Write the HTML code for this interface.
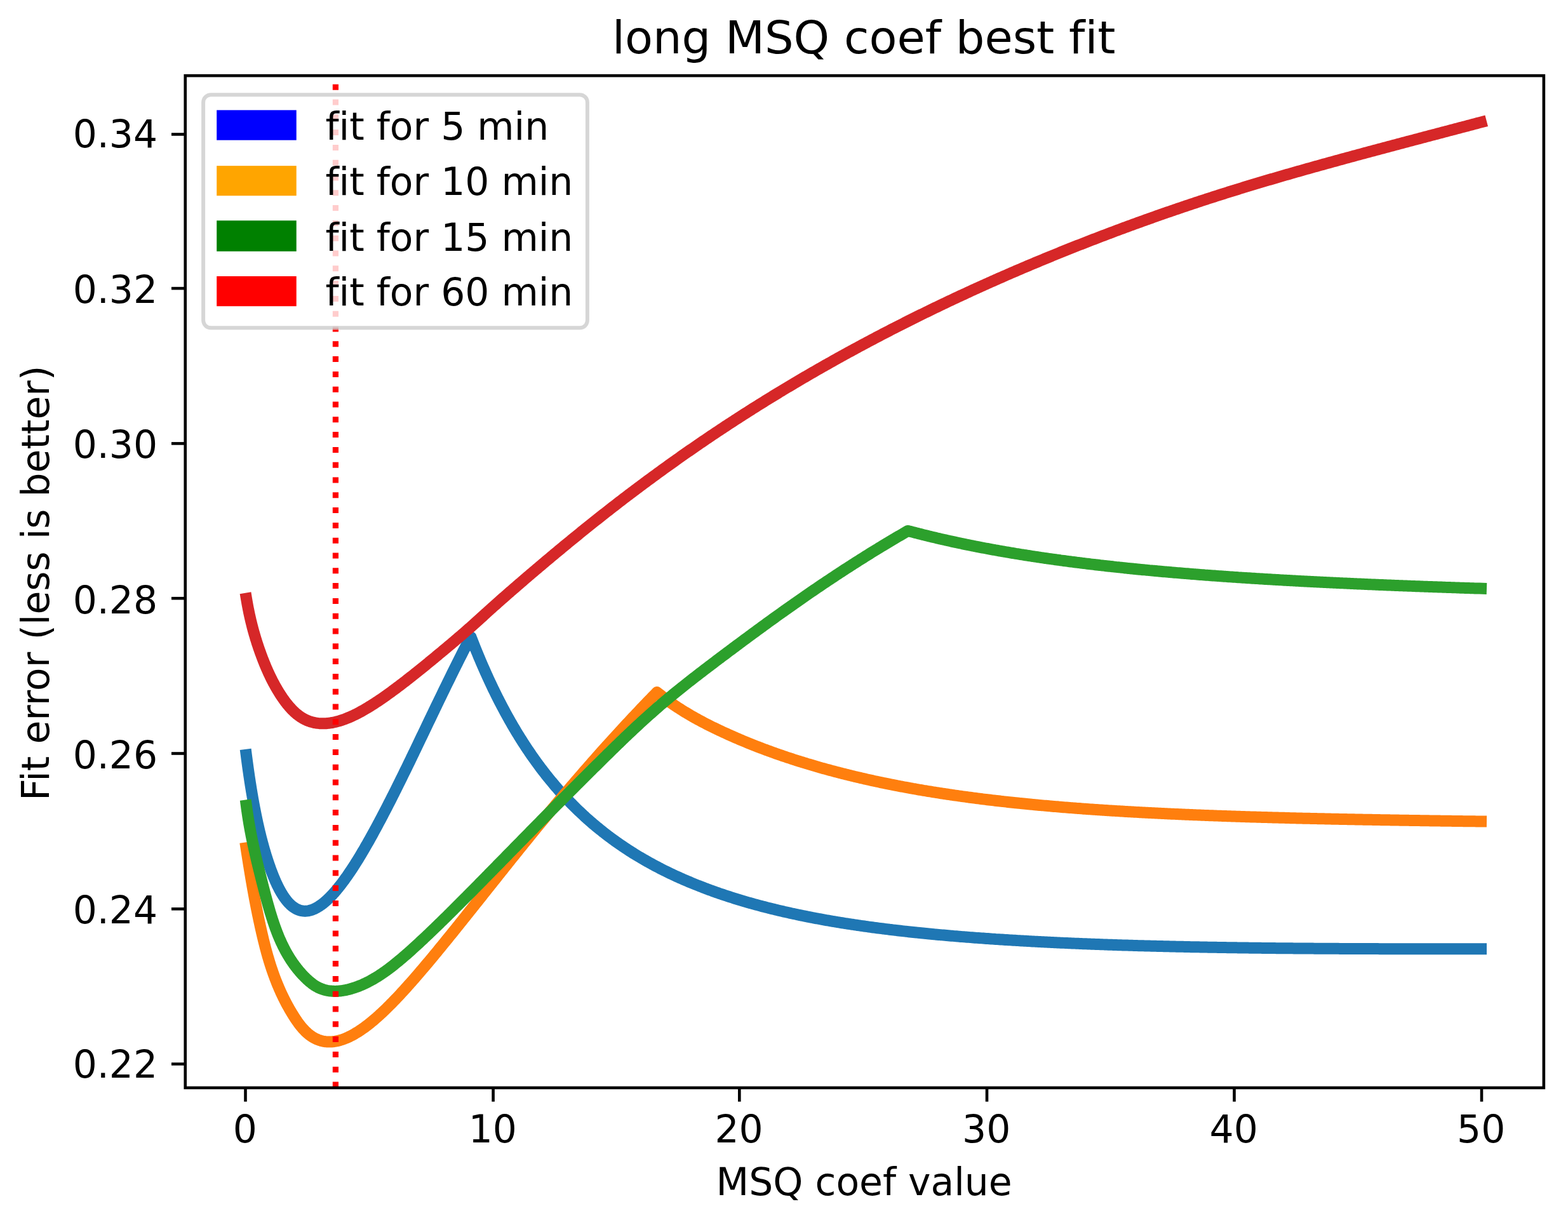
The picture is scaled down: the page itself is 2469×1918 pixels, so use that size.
<!DOCTYPE html>
<html lang="en"><head><meta charset="utf-8"><title>long MSQ coef best fit</title>
<style>html,body{margin:0;padding:0;background:#fff;}body{width:2469px;height:1918px;overflow:hidden;}svg{display:block;}text{font-family:'DejaVu Sans', 'Liberation Sans', sans-serif;fill:#000;font-variant-ligatures:none;font-feature-settings:"liga" 0,"clig" 0,"kern" 1;font-kerning:normal;}</style></head><body>
<svg xmlns="http://www.w3.org/2000/svg" width="2469" height="1918" viewBox="0 0 2469 1918">
<rect x="0" y="0" width="2469" height="1918" fill="#ffffff"/>
<defs><clipPath id="ax"><rect x="291.75" y="119.15" width="2139.1" height="1593.8"/></clipPath></defs>
<g clip-path="url(#ax)" fill="none" stroke-linejoin="round" stroke-linecap="square">
<path d="M387.80,1188.80 L388.07,1190.93 L388.35,1193.08 L388.63,1195.24 L388.92,1197.42 L389.21,1199.60 L389.51,1201.81 L389.81,1204.02 L390.11,1206.25 L390.29,1207.55 L390.42,1208.49 L390.74,1210.75 L391.06,1213.01 L391.38,1215.29 L391.71,1217.58 L392.04,1219.88 L392.38,1222.19 L392.73,1224.51 L392.78,1224.89 L393.08,1226.84 L393.43,1229.18 L393.79,1231.53 L394.16,1233.89 L394.53,1236.26 L394.91,1238.64 L395.27,1240.93 L395.29,1241.02 L395.68,1243.41 L396.07,1245.81 L396.48,1248.22 L396.88,1250.63 L397.30,1253.05 L397.72,1255.48 L397.77,1255.76 L398.14,1257.91 L398.58,1260.35 L399.02,1262.79 L399.46,1265.23 L399.91,1267.69 L400.26,1269.52 L400.38,1270.14 L400.84,1272.60 L401.32,1275.06 L401.80,1277.53 L402.29,1280.00 L402.75,1282.29 L402.79,1282.47 L403.29,1284.94 L403.80,1287.42 L404.32,1289.90 L404.85,1292.37 L405.24,1294.18 L405.39,1294.85 L405.93,1297.33 L406.48,1299.81 L407.04,1302.29 L407.61,1304.77 L407.73,1305.28 L408.19,1307.25 L408.78,1309.73 L409.38,1312.20 L409.98,1314.68 L410.22,1315.65 L410.60,1317.15 L411.22,1319.62 L411.86,1322.08 L412.50,1324.55 L412.72,1325.35 L413.16,1327.01 L413.82,1329.46 L414.49,1331.92 L415.18,1334.36 L415.21,1334.46 L415.87,1336.81 L416.58,1339.25 L417.30,1341.68 L417.70,1343.02 L418.02,1344.11 L418.76,1346.53 L419.51,1348.94 L420.19,1351.08 L420.28,1351.35 L421.05,1353.75 L421.83,1356.14 L422.63,1358.53 L422.68,1358.68 L423.44,1360.91 L424.26,1363.28 L425.10,1365.64 L425.17,1365.85 L425.95,1367.99 L426.81,1370.33 L427.66,1372.62 L427.68,1372.67 L428.57,1374.99 L429.47,1377.29 L430.16,1379.01 L430.39,1379.58 L431.31,1381.85 L432.26,1384.10 L432.65,1385.01 L433.22,1386.33 L434.19,1388.53 L435.14,1390.63 L435.18,1390.71 L436.18,1392.86 L437.20,1394.97 L437.63,1395.86 L438.23,1397.06 L439.28,1399.11 L440.12,1400.70 L440.35,1401.12 L441.43,1403.10 L442.53,1405.04 L442.61,1405.18 L443.65,1406.93 L444.78,1408.78 L445.11,1409.30 L445.93,1410.58 L447.10,1412.33 L447.60,1413.06 L448.28,1414.04 L449.49,1415.69 L450.09,1416.48 L450.71,1417.28 L451.95,1418.82 L452.58,1419.57 L453.21,1420.30 L454.49,1421.72 L455.07,1422.34 L455.79,1423.08 L457.11,1424.38 L457.56,1424.80 L458.45,1425.60 L459.82,1426.76 L460.05,1426.96 L461.20,1427.85 L462.55,1428.83 L462.60,1428.86 L464.03,1429.81 L465.04,1430.42 L465.47,1430.67 L466.94,1431.46 L467.53,1431.75 L468.43,1432.16 L469.95,1432.79 L470.02,1432.81 L471.49,1433.32 L472.51,1433.63 L473.05,1433.78 L474.63,1434.14 L475.00,1434.21 L476.24,1434.41 L477.50,1434.56 L477.88,1434.59 L479.54,1434.68 L479.99,1434.69 L481.22,1434.67 L482.48,1434.60 L482.93,1434.56 L484.67,1434.35 L484.97,1434.31 L486.44,1434.04 L487.46,1433.81 L488.23,1433.63 L489.95,1433.13 L490.05,1433.10 L491.89,1432.48 L492.45,1432.27 L493.77,1431.74 L494.94,1431.23 L495.67,1430.89 L497.43,1430.02 L497.61,1429.93 L499.57,1428.86 L499.92,1428.65 L501.56,1427.66 L502.41,1427.13 L503.59,1426.35 L504.90,1425.45 L505.64,1424.93 L507.39,1423.63 L507.73,1423.38 L509.85,1421.70 L509.89,1421.67 L512.00,1419.90 L512.38,1419.58 L514.19,1417.98 L514.87,1417.36 L516.41,1415.92 L517.36,1415.01 L518.66,1413.74 L519.85,1412.54 L520.95,1411.42 L522.34,1409.96 L523.27,1408.97 L524.84,1407.26 L525.63,1406.38 L527.33,1404.46 L528.02,1403.66 L529.82,1401.55 L530.45,1400.79 L532.31,1398.54 L532.92,1397.79 L534.80,1395.44 L535.43,1394.64 L537.29,1392.24 L537.97,1391.35 L539.78,1388.95 L540.56,1387.91 L542.28,1385.57 L543.18,1384.32 L544.77,1382.11 L545.85,1380.59 L547.26,1378.57 L548.55,1376.70 L549.75,1374.95 L551.30,1372.66 L552.24,1371.25 L554.09,1368.46 L554.73,1367.48 L556.92,1364.11 L557.23,1363.63 L559.72,1359.72 L559.80,1359.59 L562.21,1355.74 L562.72,1354.92 L564.70,1351.70 L565.68,1350.09 L567.19,1347.59 L568.69,1345.09 L569.68,1343.43 L571.75,1339.93 L572.17,1339.21 L574.67,1334.94 L574.86,1334.61 L577.16,1330.61 L578.01,1329.12 L579.65,1326.24 L581.21,1323.47 L582.14,1321.81 L584.46,1317.66 L584.63,1317.35 L587.12,1312.83 L587.76,1311.68 L589.62,1308.28 L591.11,1305.53 L592.11,1303.69 L594.51,1299.22 L594.60,1299.06 L597.09,1294.39 L597.97,1292.74 L599.58,1289.69 L601.47,1286.09 L602.07,1284.95 L604.56,1280.18 L605.04,1279.28 L607.06,1275.38 L608.65,1272.29 L609.55,1270.55 L612.04,1265.70 L612.32,1265.14 L614.53,1260.81 L616.05,1257.82 L617.02,1255.90 L619.51,1250.97 L619.84,1250.32 L622.01,1246.01 L623.68,1242.66 L624.50,1241.02 L626.99,1236.02 L627.59,1234.82 L629.48,1231.00 L631.55,1226.81 L631.97,1225.95 L634.46,1220.89 L635.57,1218.63 L636.95,1215.81 L639.45,1210.71 L639.66,1210.27 L641.94,1205.59 L643.81,1201.74 L644.43,1200.46 L646.92,1195.31 L648.02,1193.03 L649.41,1190.15 L651.90,1184.98 L652.30,1184.16 L654.40,1179.80 L656.64,1175.12 L656.89,1174.61 L659.38,1169.41 L661.05,1165.92 L661.87,1164.21 L664.36,1159.01 L665.53,1156.57 L666.85,1153.81 L669.35,1148.60 L670.08,1147.07 L671.84,1143.40 L674.33,1138.20 L674.70,1137.43 L676.82,1133.00 L679.31,1127.80 L679.38,1127.65 L681.80,1122.61 L684.14,1117.74 L684.29,1117.43 L686.79,1112.25 L688.98,1107.71 L689.28,1107.09 L691.77,1101.93 L693.89,1097.55 L694.26,1096.78 L696.75,1091.65 L698.87,1087.29 L699.24,1086.52 L701.74,1081.41 L703.93,1076.91 L704.23,1076.31 L706.72,1071.22 L709.07,1066.44 L709.21,1066.15 L711.70,1061.09 L714.19,1056.05 L714.29,1055.86 L716.68,1051.03 L719.18,1046.02 L719.58,1045.20 L721.67,1041.02 L724.16,1036.05 L724.96,1034.45 L726.65,1031.09 L729.14,1026.16 L730.42,1023.64 L731.63,1021.29 L734.13,1016.52 L735.97,1013.09 L736.62,1011.91 L739.11,1007.48 L741.60,1003.29 L741.60,1003.29 L741.60,1003.32 L744.10,1009.76 L744.72,1011.34 L746.59,1016.08 L747.87,1019.27 L749.09,1022.30 L751.04,1027.09 L751.59,1028.43 L754.08,1034.45 L754.24,1034.82 L756.58,1040.38 L757.46,1042.45 L759.08,1046.21 L760.72,1049.99 L761.57,1051.94 L764.00,1057.43 L764.07,1057.59 L766.57,1063.15 L767.31,1064.77 L769.06,1068.61 L770.64,1072.03 L771.56,1074.00 L774.01,1079.19 L774.06,1079.29 L776.55,1084.51 L777.40,1086.26 L779.05,1089.64 L780.82,1093.23 L781.55,1094.70 L784.04,1099.67 L784.27,1100.12 L786.54,1104.57 L787.75,1106.92 L789.04,1109.40 L791.25,1113.62 L791.53,1114.15 L794.03,1118.83 L794.79,1120.24 L796.53,1123.44 L798.36,1126.77 L799.02,1127.98 L801.52,1132.45 L801.96,1133.22 L804.02,1136.85 L805.58,1139.57 L806.51,1141.19 L809.01,1145.46 L809.24,1145.85 L811.51,1149.67 L812.93,1152.03 L814.00,1153.82 L816.50,1157.90 L816.65,1158.14 L819.00,1161.93 L820.40,1164.16 L821.49,1165.90 L823.99,1169.80 L824.18,1170.10 L826.49,1173.66 L827.99,1175.95 L828.98,1177.45 L831.48,1181.20 L831.84,1181.72 L833.98,1184.88 L835.71,1187.42 L836.47,1188.52 L838.97,1192.10 L839.63,1193.03 L841.47,1195.64 L843.57,1198.57 L843.96,1199.12 L846.46,1202.55 L847.54,1204.02 L848.96,1205.93 L851.45,1209.27 L851.55,1209.40 L853.95,1212.56 L855.60,1214.71 L856.45,1215.81 L858.95,1219.00 L859.67,1219.93 L861.44,1222.16 L863.79,1225.08 L863.94,1225.27 L866.44,1228.34 L867.93,1230.16 L868.93,1231.36 L871.43,1234.35 L872.11,1235.16 L873.93,1237.29 L876.33,1240.09 L876.42,1240.20 L878.92,1243.06 L880.58,1244.94 L881.42,1245.88 L883.91,1248.67 L884.87,1249.73 L886.41,1251.42 L888.91,1254.13 L889.19,1254.44 L891.40,1256.81 L893.55,1259.08 L893.90,1259.45 L896.40,1262.06 L897.95,1263.66 L898.89,1264.63 L901.39,1267.17 L902.38,1268.16 L903.89,1269.67 L906.38,1272.14 L906.85,1272.60 L908.88,1274.58 L911.36,1276.97 L911.38,1276.98 L913.87,1279.36 L915.90,1281.27 L916.37,1281.70 L918.87,1284.02 L920.49,1285.50 L921.36,1286.30 L923.86,1288.56 L925.11,1289.67 L926.36,1290.78 L928.85,1292.98 L929.77,1293.78 L931.35,1295.15 L933.85,1297.29 L934.47,1297.82 L936.34,1299.41 L938.84,1301.49 L939.21,1301.80 L941.34,1303.56 L943.83,1305.59 L943.99,1305.72 L946.33,1307.60 L948.81,1309.57 L948.83,1309.59 L951.32,1311.55 L953.67,1313.36 L953.82,1313.48 L956.32,1315.40 L958.57,1317.10 L958.81,1317.28 L961.31,1319.15 L963.51,1320.77 L963.81,1320.99 L966.30,1322.81 L968.49,1324.39 L968.80,1324.61 L971.30,1326.38 L973.52,1327.94 L973.79,1328.14 L976.29,1329.87 L978.58,1331.44 L978.79,1331.58 L981.28,1333.27 L983.69,1334.89 L983.78,1334.94 L986.28,1336.60 L988.77,1338.23 L988.85,1338.27 L991.27,1339.84 L993.77,1341.43 L994.04,1341.61 L996.26,1343.00 L998.76,1344.56 L999.28,1344.88 L1001.26,1346.10 L1003.75,1347.62 L1004.57,1348.11 L1006.25,1349.12 L1008.75,1350.60 L1009.89,1351.28 L1011.24,1352.07 L1013.74,1353.52 L1015.27,1354.40 L1016.24,1354.95 L1018.73,1356.37 L1020.69,1357.46 L1021.23,1357.77 L1023.73,1359.15 L1026.15,1360.48 L1026.22,1360.52 L1028.72,1361.87 L1031.22,1363.21 L1031.66,1363.44 L1033.71,1364.53 L1036.21,1365.84 L1037.21,1366.36 L1038.71,1367.13 L1041.20,1368.41 L1042.82,1369.23 L1043.70,1369.68 L1046.20,1370.93 L1048.46,1372.05 L1048.69,1372.16 L1051.19,1373.38 L1053.69,1374.59 L1054.16,1374.82 L1056.18,1375.79 L1058.68,1376.97 L1059.91,1377.55 L1061.18,1378.14 L1063.67,1379.30 L1065.70,1380.23 L1066.17,1380.44 L1068.67,1381.57 L1071.16,1382.69 L1071.54,1382.86 L1073.66,1383.80 L1076.16,1384.90 L1077.43,1385.45 L1078.65,1385.98 L1081.15,1387.06 L1083.37,1388.00 L1083.65,1388.12 L1086.15,1389.17 L1088.64,1390.21 L1089.36,1390.50 L1091.14,1391.23 L1093.64,1392.25 L1095.40,1392.97 L1096.13,1393.26 L1098.63,1394.26 L1101.13,1395.24 L1101.49,1395.39 L1103.62,1396.22 L1106.12,1397.18 L1107.63,1397.76 L1108.62,1398.14 L1111.11,1399.09 L1113.61,1400.02 L1113.83,1400.10 L1116.11,1400.95 L1118.60,1401.87 L1120.07,1402.40 L1121.10,1402.77 L1123.60,1403.67 L1126.09,1404.56 L1126.37,1404.66 L1128.59,1405.44 L1131.09,1406.31 L1132.72,1406.88 L1133.58,1407.17 L1136.08,1408.03 L1138.58,1408.87 L1139.12,1409.06 L1141.07,1409.71 L1143.57,1410.53 L1145.58,1411.20 L1146.07,1411.35 L1148.56,1412.16 L1151.06,1412.97 L1152.09,1413.30 L1153.56,1413.76 L1156.05,1414.55 L1158.55,1415.33 L1158.66,1415.36 L1161.05,1416.10 L1163.54,1416.86 L1165.28,1417.39 L1166.04,1417.61 L1168.54,1418.36 L1171.03,1419.10 L1171.96,1419.38 L1173.53,1419.83 L1176.03,1420.56 L1178.52,1421.28 L1178.69,1421.33 L1181.02,1421.99 L1183.52,1422.69 L1185.48,1423.24 L1186.01,1423.39 L1188.51,1424.08 L1191.01,1424.76 L1192.33,1425.12 L1193.50,1425.44 L1196.00,1426.11 L1198.50,1426.77 L1199.24,1426.97 L1200.99,1427.43 L1203.49,1428.08 L1205.99,1428.72 L1206.20,1428.77 L1208.48,1429.36 L1210.98,1429.99 L1213.22,1430.55 L1213.48,1430.61 L1215.97,1431.23 L1218.47,1431.84 L1220.30,1432.29 L1220.97,1432.45 L1223.46,1433.05 L1225.96,1433.64 L1227.44,1433.99 L1228.46,1434.23 L1230.95,1434.82 L1233.45,1435.39 L1234.64,1435.67 L1235.95,1435.96 L1238.44,1436.53 L1240.94,1437.09 L1241.90,1437.30 L1243.44,1437.65 L1245.93,1438.19 L1248.43,1438.74 L1249.22,1438.91 L1250.93,1439.28 L1253.42,1439.81 L1255.92,1440.34 L1256.60,1440.48 L1258.42,1440.86 L1260.91,1441.38 L1263.41,1441.89 L1264.04,1442.02 L1265.91,1442.40 L1268.40,1442.91 L1270.90,1443.41 L1271.55,1443.53 L1273.40,1443.90 L1275.89,1444.39 L1278.39,1444.87 L1279.12,1445.01 L1280.89,1445.35 L1283.38,1445.83 L1285.88,1446.30 L1286.75,1446.46 L1288.38,1446.76 L1290.87,1447.22 L1293.37,1447.68 L1294.45,1447.88 L1295.87,1448.13 L1298.36,1448.58 L1300.86,1449.03 L1302.21,1449.27 L1303.36,1449.47 L1305.85,1449.90 L1308.35,1450.33 L1310.04,1450.62 L1310.85,1450.76 L1313.35,1451.18 L1315.84,1451.60 L1317.93,1451.95 L1318.34,1452.02 L1320.84,1452.43 L1323.33,1452.84 L1325.83,1453.24 L1325.89,1453.25 L1328.33,1453.64 L1330.82,1454.04 L1333.32,1454.43 L1333.92,1454.52 L1335.82,1454.82 L1338.31,1455.20 L1340.81,1455.59 L1342.01,1455.77 L1343.31,1455.96 L1345.80,1456.34 L1348.30,1456.71 L1350.17,1456.98 L1350.80,1457.08 L1353.29,1457.44 L1355.79,1457.80 L1358.29,1458.16 L1358.40,1458.17 L1360.78,1458.51 L1363.28,1458.86 L1365.78,1459.21 L1366.70,1459.34 L1368.27,1459.55 L1370.77,1459.89 L1373.27,1460.23 L1375.07,1460.47 L1375.76,1460.56 L1378.26,1460.89 L1380.76,1461.22 L1383.25,1461.55 L1383.51,1461.58 L1385.75,1461.87 L1388.25,1462.19 L1390.74,1462.50 L1392.02,1462.67 L1393.24,1462.82 L1395.74,1463.13 L1398.23,1463.44 L1400.60,1463.72 L1400.73,1463.74 L1403.23,1464.04 L1405.72,1464.34 L1408.22,1464.64 L1409.26,1464.76 L1410.72,1464.93 L1413.21,1465.22 L1415.71,1465.51 L1417.98,1465.77 L1418.21,1465.79 L1420.70,1466.08 L1423.20,1466.36 L1425.70,1466.64 L1426.78,1466.75 L1428.19,1466.91 L1430.69,1467.18 L1433.19,1467.45 L1435.65,1467.72 L1435.68,1467.72 L1438.18,1467.99 L1440.68,1468.25 L1443.17,1468.51 L1444.60,1468.66 L1445.67,1468.77 L1448.17,1469.02 L1450.66,1469.28 L1453.16,1469.53 L1453.62,1469.57 L1455.66,1469.78 L1458.15,1470.02 L1460.65,1470.27 L1462.72,1470.47 L1463.15,1470.51 L1465.64,1470.75 L1468.14,1470.99 L1470.64,1471.22 L1471.90,1471.34 L1473.13,1471.46 L1475.63,1471.69 L1478.13,1471.92 L1480.62,1472.14 L1481.15,1472.19 L1483.12,1472.37 L1485.62,1472.59 L1488.11,1472.81 L1490.48,1473.02 L1490.61,1473.03 L1493.11,1473.25 L1495.60,1473.46 L1498.10,1473.68 L1499.89,1473.83 L1500.60,1473.89 L1503.09,1474.10 L1505.59,1474.31 L1508.09,1474.51 L1509.37,1474.62 L1510.58,1474.72 L1513.08,1474.92 L1515.58,1475.12 L1518.07,1475.32 L1518.94,1475.39 L1520.57,1475.52 L1523.07,1475.71 L1525.56,1475.90 L1528.06,1476.10 L1528.59,1476.14 L1530.56,1476.29 L1533.05,1476.47 L1535.55,1476.66 L1538.05,1476.85 L1538.32,1476.87 L1540.55,1477.03 L1543.04,1477.21 L1545.54,1477.39 L1548.04,1477.57 L1548.12,1477.58 L1550.53,1477.75 L1553.03,1477.92 L1555.53,1478.10 L1558.02,1478.27 L1558.02,1478.27 L1560.52,1478.44 L1563.02,1478.61 L1565.51,1478.78 L1567.99,1478.95 L1568.01,1478.95 L1570.51,1479.11 L1573.00,1479.28 L1575.50,1479.44 L1578.00,1479.60 L1578.05,1479.60 L1580.49,1479.76 L1582.99,1479.92 L1585.49,1480.07 L1587.98,1480.23 L1588.19,1480.24 L1590.48,1480.38 L1592.98,1480.53 L1595.47,1480.69 L1597.97,1480.84 L1598.42,1480.86 L1600.47,1480.98 L1602.96,1481.13 L1605.46,1481.28 L1607.96,1481.42 L1608.74,1481.47 L1610.45,1481.56 L1612.95,1481.71 L1615.45,1481.85 L1617.94,1481.99 L1619.14,1482.05 L1620.44,1482.12 L1622.94,1482.26 L1625.43,1482.40 L1627.93,1482.53 L1629.63,1482.62 L1630.43,1482.66 L1632.92,1482.80 L1635.42,1482.93 L1637.92,1483.06 L1640.20,1483.18 L1640.41,1483.19 L1642.91,1483.31 L1645.41,1483.44 L1647.90,1483.56 L1650.40,1483.69 L1650.87,1483.71 L1652.90,1483.81 L1655.39,1483.93 L1657.89,1484.05 L1660.39,1484.17 L1661.62,1484.23 L1662.88,1484.29 L1665.38,1484.41 L1667.88,1484.52 L1670.37,1484.64 L1672.47,1484.74 L1672.87,1484.75 L1675.37,1484.87 L1677.86,1484.98 L1680.36,1485.09 L1682.86,1485.20 L1683.40,1485.22 L1685.35,1485.31 L1687.85,1485.42 L1690.35,1485.52 L1692.84,1485.63 L1694.43,1485.70 L1695.34,1485.73 L1697.84,1485.84 L1700.33,1485.94 L1702.83,1486.04 L1705.33,1486.14 L1705.55,1486.15 L1707.82,1486.24 L1710.32,1486.34 L1712.82,1486.44 L1715.31,1486.54 L1716.76,1486.60 L1717.81,1486.64 L1720.31,1486.73 L1722.80,1486.83 L1725.30,1486.92 L1727.80,1487.01 L1728.07,1487.02 L1730.29,1487.10 L1732.79,1487.19 L1735.29,1487.28 L1737.78,1487.37 L1739.48,1487.43 L1740.28,1487.46 L1742.78,1487.55 L1745.27,1487.64 L1747.77,1487.72 L1750.27,1487.81 L1750.97,1487.83 L1752.76,1487.89 L1755.26,1487.97 L1757.76,1488.06 L1760.25,1488.14 L1762.57,1488.21 L1762.75,1488.22 L1765.25,1488.30 L1767.75,1488.38 L1770.24,1488.46 L1772.74,1488.54 L1774.26,1488.58 L1775.24,1488.61 L1777.73,1488.69 L1780.23,1488.76 L1782.73,1488.84 L1785.22,1488.91 L1786.05,1488.94 L1787.72,1488.99 L1790.22,1489.06 L1792.71,1489.13 L1795.21,1489.20 L1797.71,1489.27 L1797.94,1489.28 L1800.20,1489.34 L1802.70,1489.41 L1805.20,1489.48 L1807.69,1489.55 L1809.93,1489.61 L1810.19,1489.61 L1812.69,1489.68 L1815.18,1489.75 L1817.68,1489.81 L1820.18,1489.87 L1822.02,1489.92 L1822.67,1489.94 L1825.17,1490.00 L1827.67,1490.06 L1830.16,1490.12 L1832.66,1490.19 L1834.21,1490.22 L1835.16,1490.25 L1837.65,1490.30 L1840.15,1490.36 L1842.65,1490.42 L1845.14,1490.48 L1846.51,1490.51 L1847.64,1490.54 L1850.14,1490.59 L1852.63,1490.65 L1855.13,1490.70 L1857.63,1490.76 L1858.91,1490.79 L1860.12,1490.81 L1862.62,1490.87 L1865.12,1490.92 L1867.61,1490.97 L1870.11,1491.02 L1871.41,1491.05 L1872.61,1491.07 L1875.10,1491.13 L1877.60,1491.18 L1880.10,1491.23 L1882.59,1491.27 L1884.01,1491.30 L1885.09,1491.32 L1887.59,1491.37 L1890.08,1491.42 L1892.58,1491.46 L1895.08,1491.51 L1896.73,1491.54 L1897.57,1491.56 L1900.07,1491.60 L1902.57,1491.65 L1905.06,1491.69 L1907.56,1491.73 L1909.54,1491.77 L1910.06,1491.78 L1912.55,1491.82 L1915.05,1491.86 L1917.55,1491.90 L1920.04,1491.94 L1922.47,1491.98 L1922.54,1491.99 L1925.04,1492.03 L1927.53,1492.07 L1930.03,1492.10 L1932.53,1492.14 L1935.02,1492.18 L1935.51,1492.19 L1937.52,1492.22 L1940.02,1492.26 L1942.51,1492.29 L1945.01,1492.33 L1947.51,1492.37 L1948.65,1492.38 L1950.00,1492.40 L1952.50,1492.44 L1955.00,1492.47 L1957.49,1492.51 L1959.99,1492.54 L1961.91,1492.56 L1962.49,1492.57 L1964.98,1492.61 L1967.48,1492.64 L1969.98,1492.67 L1972.47,1492.70 L1974.97,1492.73 L1975.27,1492.74 L1977.47,1492.76 L1979.96,1492.79 L1982.46,1492.82 L1984.96,1492.85 L1987.45,1492.88 L1988.75,1492.90 L1989.95,1492.91 L1992.45,1492.94 L1994.95,1492.97 L1997.44,1493.00 L1999.94,1493.02 L2002.34,1493.05 L2002.44,1493.05 L2004.93,1493.08 L2007.43,1493.10 L2009.93,1493.13 L2012.42,1493.15 L2014.92,1493.18 L2016.05,1493.19 L2017.42,1493.20 L2019.91,1493.23 L2022.41,1493.25 L2024.91,1493.27 L2027.40,1493.30 L2029.87,1493.32 L2029.90,1493.32 L2032.40,1493.34 L2034.89,1493.37 L2037.39,1493.39 L2039.89,1493.41 L2042.38,1493.43 L2043.80,1493.44 L2044.88,1493.45 L2047.38,1493.47 L2049.87,1493.49 L2052.37,1493.51 L2054.87,1493.53 L2057.36,1493.55 L2057.86,1493.55 L2059.86,1493.57 L2062.36,1493.59 L2064.85,1493.61 L2067.35,1493.62 L2069.85,1493.64 L2072.03,1493.66 L2072.34,1493.66 L2074.84,1493.68 L2077.34,1493.69 L2079.83,1493.71 L2082.33,1493.73 L2084.83,1493.74 L2086.32,1493.75 L2087.32,1493.76 L2089.82,1493.77 L2092.32,1493.79 L2094.81,1493.80 L2097.31,1493.82 L2099.81,1493.83 L2100.73,1493.84 L2102.30,1493.84 L2104.80,1493.86 L2107.30,1493.87 L2109.79,1493.89 L2112.29,1493.90 L2114.79,1493.91 L2115.26,1493.91 L2117.28,1493.92 L2119.78,1493.93 L2122.28,1493.95 L2124.77,1493.96 L2127.27,1493.97 L2129.77,1493.98 L2129.92,1493.98 L2132.26,1493.99 L2134.76,1494.00 L2137.26,1494.01 L2139.75,1494.02 L2142.25,1494.03 L2144.70,1494.04 L2144.75,1494.04 L2147.24,1494.05 L2149.74,1494.06 L2152.24,1494.07 L2154.73,1494.08 L2157.23,1494.09 L2159.60,1494.09 L2159.73,1494.09 L2162.22,1494.10 L2164.72,1494.11 L2167.22,1494.12 L2169.71,1494.12 L2172.21,1494.13 L2174.62,1494.14 L2174.71,1494.14 L2177.20,1494.15 L2179.70,1494.15 L2182.20,1494.16 L2184.69,1494.16 L2187.19,1494.17 L2189.69,1494.18 L2189.77,1494.18 L2192.18,1494.18 L2194.68,1494.19 L2197.18,1494.19 L2199.67,1494.20 L2202.17,1494.20 L2204.67,1494.20 L2205.05,1494.21 L2207.16,1494.21 L2209.66,1494.21 L2212.16,1494.22 L2214.65,1494.22 L2217.15,1494.22 L2219.65,1494.23 L2220.46,1494.23 L2222.15,1494.23 L2224.64,1494.23 L2227.14,1494.24 L2229.64,1494.24 L2232.13,1494.24 L2234.63,1494.24 L2236.00,1494.24 L2237.13,1494.25 L2239.62,1494.25 L2242.12,1494.25 L2244.62,1494.25 L2247.11,1494.25 L2249.61,1494.25 L2251.67,1494.25 L2252.11,1494.25 L2254.60,1494.25 L2257.10,1494.26 L2259.60,1494.26 L2262.09,1494.26 L2264.59,1494.26 L2267.09,1494.26 L2267.47,1494.26 L2269.58,1494.26 L2272.08,1494.26 L2274.58,1494.26 L2277.07,1494.26 L2279.57,1494.26 L2282.07,1494.25 L2283.40,1494.25 L2284.56,1494.25 L2287.06,1494.25 L2289.56,1494.25 L2292.05,1494.25 L2294.55,1494.25 L2297.05,1494.25 L2299.46,1494.24 L2299.54,1494.24 L2302.04,1494.24 L2304.54,1494.24 L2307.03,1494.24 L2309.53,1494.24 L2312.03,1494.23 L2314.52,1494.23 L2315.66,1494.23 L2317.02,1494.23 L2319.52,1494.23 L2322.01,1494.22 L2324.51,1494.22 L2327.01,1494.22 L2329.50,1494.21 L2332.00,1494.21 L2332.00,1494.21" stroke="#1f77b4" stroke-width="18.0"/>
<path d="M387.60,1335.40 L387.92,1337.48 L388.25,1339.59 L388.59,1341.74 L388.93,1343.93 L389.28,1346.15 L389.64,1348.41 L390.00,1350.71 L390.10,1351.34 L390.37,1353.04 L390.74,1355.40 L391.12,1357.80 L391.51,1360.23 L391.91,1362.69 L392.31,1365.18 L392.60,1366.93 L392.72,1367.71 L393.14,1370.27 L393.57,1372.85 L394.00,1375.47 L394.44,1378.12 L394.89,1380.80 L395.09,1381.98 L395.35,1383.51 L395.82,1386.24 L396.29,1389.01 L396.78,1391.80 L397.27,1394.61 L397.59,1396.43 L397.77,1397.46 L398.28,1400.33 L398.81,1403.23 L399.34,1406.15 L399.88,1409.10 L400.09,1410.25 L400.43,1412.07 L400.99,1415.06 L401.56,1418.08 L402.14,1421.12 L402.59,1423.44 L402.73,1424.18 L403.33,1427.27 L403.95,1430.38 L404.57,1433.50 L405.08,1436.04 L405.21,1436.65 L405.86,1439.82 L406.52,1443.01 L407.19,1446.22 L407.58,1448.07 L407.87,1449.44 L408.57,1452.69 L409.28,1455.95 L410.01,1459.23 L410.08,1459.56 L410.74,1462.53 L411.49,1465.84 L412.26,1469.17 L412.58,1470.55 L413.03,1472.51 L413.83,1475.87 L414.63,1479.24 L415.07,1481.05 L415.46,1482.60 L416.29,1485.97 L417.15,1489.33 L417.57,1490.99 L418.01,1492.69 L418.90,1496.03 L419.80,1499.35 L420.07,1500.34 L420.71,1502.65 L421.65,1505.93 L422.57,1509.08 L422.60,1509.19 L423.57,1512.43 L424.55,1515.64 L425.07,1517.27 L425.56,1518.83 L426.58,1522.00 L427.56,1524.97 L427.62,1525.15 L428.69,1528.28 L429.77,1531.39 L430.06,1532.22 L430.87,1534.47 L431.99,1537.54 L432.56,1539.07 L433.13,1540.59 L434.29,1543.61 L435.06,1545.56 L435.48,1546.62 L436.68,1549.61 L437.55,1551.72 L437.91,1552.58 L439.16,1555.52 L440.05,1557.58 L440.43,1558.45 L441.73,1561.36 L442.55,1563.17 L443.05,1564.26 L444.40,1567.13 L445.05,1568.49 L445.77,1569.98 L447.16,1572.82 L447.54,1573.59 L448.58,1575.64 L450.03,1578.44 L450.04,1578.47 L451.50,1581.23 L452.54,1583.14 L453.00,1583.99 L454.53,1586.74 L455.04,1587.64 L456.09,1589.47 L457.54,1591.95 L457.67,1592.19 L459.29,1594.89 L460.03,1596.11 L460.93,1597.57 L462.53,1600.12 L462.61,1600.24 L464.31,1602.89 L465.03,1603.98 L466.05,1605.51 L467.53,1607.67 L467.82,1608.10 L469.62,1610.63 L470.02,1611.19 L471.45,1613.11 L472.52,1614.50 L473.32,1615.52 L475.02,1617.60 L475.22,1617.84 L477.16,1620.07 L477.52,1620.46 L479.14,1622.20 L480.01,1623.10 L481.15,1624.22 L482.51,1625.52 L483.19,1626.14 L485.01,1627.72 L485.28,1627.95 L487.40,1629.64 L487.51,1629.73 L489.56,1631.23 L490.01,1631.53 L491.76,1632.69 L492.50,1633.16 L494.00,1634.04 L495.00,1634.60 L496.29,1635.28 L497.50,1635.87 L498.61,1636.39 L500.00,1636.98 L500.98,1637.37 L502.49,1637.93 L503.39,1638.23 L504.99,1638.72 L505.85,1638.96 L507.49,1639.37 L508.35,1639.56 L509.99,1639.88 L510.90,1640.03 L512.48,1640.25 L513.49,1640.36 L514.98,1640.49 L516.14,1640.56 L517.48,1640.60 L518.83,1640.62 L519.98,1640.60 L521.57,1640.53 L522.47,1640.47 L524.36,1640.30 L524.97,1640.24 L527.20,1639.93 L527.47,1639.89 L529.97,1639.44 L530.10,1639.42 L532.47,1638.89 L533.04,1638.75 L534.96,1638.24 L536.05,1637.93 L537.46,1637.50 L539.10,1636.96 L539.96,1636.67 L542.22,1635.84 L542.46,1635.75 L544.95,1634.75 L545.39,1634.57 L547.45,1633.67 L548.62,1633.13 L549.95,1632.50 L551.91,1631.54 L552.45,1631.27 L554.94,1629.96 L555.26,1629.79 L557.44,1628.57 L558.67,1627.87 L559.94,1627.12 L562.14,1625.79 L562.44,1625.61 L564.94,1624.03 L565.68,1623.54 L567.43,1622.39 L569.29,1621.13 L569.93,1620.68 L572.43,1618.92 L572.96,1618.55 L574.93,1617.11 L576.69,1615.79 L577.42,1615.24 L579.92,1613.31 L580.50,1612.86 L582.42,1611.34 L584.37,1609.76 L584.92,1609.32 L587.41,1607.24 L588.32,1606.48 L589.91,1605.13 L592.34,1603.02 L592.41,1602.96 L594.91,1600.75 L596.44,1599.38 L597.41,1598.51 L599.90,1596.21 L600.61,1595.56 L602.40,1593.88 L604.85,1591.56 L604.90,1591.52 L607.40,1589.11 L609.18,1587.37 L609.89,1586.67 L612.39,1584.20 L613.58,1583.01 L614.89,1581.69 L617.39,1579.15 L618.07,1578.46 L619.88,1576.59 L622.38,1573.99 L622.64,1573.73 L624.88,1571.37 L627.29,1568.82 L627.38,1568.72 L629.88,1566.05 L632.03,1563.73 L632.37,1563.35 L634.87,1560.63 L636.85,1558.46 L637.37,1557.89 L639.87,1555.13 L641.76,1553.02 L642.36,1552.35 L644.86,1549.54 L646.77,1547.39 L647.36,1546.72 L649.86,1543.89 L651.87,1541.59 L652.35,1541.03 L654.85,1538.16 L657.06,1535.61 L657.35,1535.27 L659.85,1532.37 L662.34,1529.46 L662.35,1529.45 L664.84,1526.53 L667.34,1523.58 L667.73,1523.13 L669.84,1520.63 L672.34,1517.66 L673.21,1516.62 L674.83,1514.68 L677.33,1511.70 L678.79,1509.94 L679.83,1508.70 L682.33,1505.69 L684.48,1503.09 L684.82,1502.67 L687.32,1499.65 L689.82,1496.61 L690.27,1496.07 L692.32,1493.57 L694.82,1490.52 L696.17,1488.87 L697.31,1487.46 L699.81,1484.40 L702.17,1481.50 L702.31,1481.33 L704.81,1478.25 L707.30,1475.17 L708.29,1473.95 L709.80,1472.08 L712.30,1468.99 L714.52,1466.24 L714.80,1465.89 L717.29,1462.79 L719.79,1459.69 L720.86,1458.35 L722.29,1456.58 L724.79,1453.46 L727.28,1450.35 L727.32,1450.30 L729.78,1447.23 L732.28,1444.11 L733.90,1442.08 L734.78,1440.98 L737.28,1437.85 L739.77,1434.72 L740.60,1433.68 L742.27,1431.59 L744.77,1428.46 L747.27,1425.33 L747.43,1425.12 L749.76,1422.19 L752.26,1419.05 L754.38,1416.39 L754.76,1415.91 L757.26,1412.78 L759.75,1409.64 L761.46,1407.50 L762.25,1406.50 L764.75,1403.36 L767.25,1400.22 L768.66,1398.44 L769.75,1397.08 L772.24,1393.94 L774.74,1390.80 L776.01,1389.21 L777.24,1387.66 L779.74,1384.52 L782.23,1381.39 L783.48,1379.82 L784.73,1378.25 L787.23,1375.12 L789.73,1371.99 L791.10,1370.27 L792.22,1368.86 L794.72,1365.73 L797.22,1362.61 L798.85,1360.57 L799.72,1359.48 L802.22,1356.37 L804.71,1353.25 L806.75,1350.71 L807.21,1350.14 L809.71,1347.03 L812.21,1343.92 L814.70,1340.82 L814.79,1340.71 L817.20,1337.72 L819.70,1334.62 L822.20,1331.53 L822.98,1330.56 L824.69,1328.45 L827.19,1325.36 L829.69,1322.28 L831.32,1320.27 L832.19,1319.21 L834.69,1316.14 L837.18,1313.07 L839.68,1310.01 L839.82,1309.85 L842.18,1306.96 L844.68,1303.91 L847.17,1300.86 L848.47,1299.29 L849.67,1297.82 L852.17,1294.79 L854.67,1291.76 L857.16,1288.73 L857.28,1288.59 L859.66,1285.71 L862.16,1282.70 L864.66,1279.69 L866.25,1277.77 L867.16,1276.69 L869.65,1273.69 L872.15,1270.70 L874.65,1267.72 L875.39,1266.83 L877.15,1264.74 L879.64,1261.76 L882.14,1258.80 L884.64,1255.83 L884.70,1255.76 L887.14,1252.88 L889.63,1249.93 L892.13,1246.99 L894.17,1244.58 L894.63,1244.05 L897.13,1241.12 L899.63,1238.19 L902.12,1235.27 L903.83,1233.29 L904.62,1232.36 L907.12,1229.46 L909.62,1226.56 L912.11,1223.66 L913.66,1221.88 L914.61,1220.78 L917.11,1217.90 L919.61,1215.03 L922.10,1212.16 L923.67,1210.37 L924.60,1209.30 L927.10,1206.44 L929.60,1203.60 L932.09,1200.76 L933.86,1198.75 L934.59,1197.92 L937.09,1195.10 L939.59,1192.28 L942.09,1189.46 L944.25,1187.03 L944.58,1186.65 L947.08,1183.85 L949.58,1181.06 L952.08,1178.27 L954.57,1175.49 L954.82,1175.22 L957.07,1172.72 L959.57,1169.95 L962.07,1167.19 L964.56,1164.44 L965.59,1163.31 L967.06,1161.69 L969.56,1158.95 L972.06,1156.22 L974.56,1153.50 L976.56,1151.31 L977.05,1150.78 L979.55,1148.06 L982.05,1145.36 L984.55,1142.66 L987.04,1139.97 L987.73,1139.23 L989.54,1137.28 L992.04,1134.60 L994.54,1131.93 L997.03,1129.27 L999.10,1127.06 L999.53,1126.61 L1002.03,1123.96 L1004.53,1121.31 L1007.03,1118.67 L1009.52,1116.04 L1010.69,1114.82 L1012.02,1113.42 L1014.52,1110.80 L1017.02,1108.19 L1019.51,1105.59 L1022.01,1102.99 L1022.48,1102.50 L1024.51,1100.40 L1027.01,1097.81 L1029.50,1095.24 L1032.00,1092.67 L1034.50,1090.10 L1037.00,1092.14 L1038.13,1093.04 L1039.50,1094.13 L1041.77,1095.92 L1042.00,1096.09 L1044.50,1098.02 L1045.43,1098.73 L1047.00,1099.91 L1049.12,1101.49 L1049.50,1101.77 L1052.00,1103.60 L1052.82,1104.19 L1054.50,1105.39 L1056.55,1106.84 L1057.00,1107.16 L1059.50,1108.90 L1060.30,1109.44 L1062.00,1110.60 L1064.06,1111.99 L1064.50,1112.28 L1067.00,1113.94 L1067.85,1114.49 L1069.50,1115.56 L1071.65,1116.94 L1072.00,1117.16 L1074.50,1118.74 L1075.48,1119.36 L1077.00,1120.30 L1079.33,1121.72 L1079.50,1121.83 L1082.00,1123.33 L1083.20,1124.05 L1084.50,1124.82 L1087.00,1126.29 L1087.09,1126.34 L1089.50,1127.73 L1091.00,1128.59 L1092.00,1129.16 L1094.50,1130.57 L1094.94,1130.81 L1097.00,1131.96 L1098.89,1133.00 L1099.50,1133.33 L1102.00,1134.68 L1102.87,1135.15 L1104.50,1136.02 L1106.87,1137.27 L1107.00,1137.34 L1109.50,1138.65 L1110.89,1139.37 L1112.00,1139.94 L1114.50,1141.22 L1114.93,1141.43 L1117.00,1142.48 L1118.99,1143.48 L1119.50,1143.73 L1122.00,1144.96 L1123.08,1145.49 L1124.50,1146.19 L1127.00,1147.40 L1127.19,1147.49 L1129.50,1148.60 L1131.32,1149.46 L1132.00,1149.79 L1134.50,1150.96 L1135.47,1151.42 L1137.00,1152.13 L1139.50,1153.29 L1139.65,1153.36 L1142.00,1154.44 L1143.85,1155.28 L1144.50,1155.57 L1147.00,1156.70 L1148.07,1157.18 L1149.50,1157.82 L1152.00,1158.93 L1152.31,1159.07 L1154.50,1160.04 L1156.58,1160.95 L1157.00,1161.13 L1159.50,1162.21 L1160.87,1162.80 L1162.00,1163.29 L1164.50,1164.35 L1165.19,1164.65 L1167.00,1165.41 L1169.50,1166.46 L1169.52,1166.47 L1172.00,1167.50 L1173.89,1168.28 L1174.50,1168.54 L1177.00,1169.56 L1178.27,1170.08 L1179.50,1170.58 L1182.00,1171.58 L1182.68,1171.86 L1184.50,1172.58 L1187.00,1173.58 L1187.11,1173.62 L1189.50,1174.56 L1191.57,1175.37 L1192.00,1175.54 L1194.50,1176.50 L1196.05,1177.10 L1197.00,1177.46 L1199.50,1178.42 L1200.56,1178.82 L1202.00,1179.36 L1204.50,1180.30 L1205.09,1180.52 L1207.00,1181.23 L1209.50,1182.15 L1209.65,1182.21 L1212.00,1183.07 L1214.23,1183.88 L1214.50,1183.98 L1217.00,1184.88 L1218.83,1185.53 L1219.50,1185.77 L1222.00,1186.66 L1223.46,1187.17 L1224.50,1187.54 L1227.00,1188.41 L1228.12,1188.80 L1229.50,1189.28 L1232.00,1190.13 L1232.80,1190.41 L1234.50,1190.99 L1237.00,1191.83 L1237.51,1192.00 L1239.50,1192.67 L1242.00,1193.50 L1242.24,1193.58 L1244.50,1194.33 L1247.00,1195.15 L1247.00,1195.15 L1249.50,1195.96 L1251.78,1196.70 L1252.00,1196.77 L1254.50,1197.57 L1256.59,1198.23 L1257.00,1198.36 L1259.50,1199.15 L1261.43,1199.75 L1262.00,1199.93 L1264.50,1200.70 L1266.29,1201.26 L1267.00,1201.47 L1269.50,1202.23 L1271.18,1202.74 L1272.00,1202.99 L1274.50,1203.74 L1276.10,1204.22 L1277.00,1204.49 L1279.50,1205.23 L1281.04,1205.68 L1282.00,1205.96 L1284.50,1206.69 L1286.01,1207.12 L1287.00,1207.41 L1289.50,1208.12 L1291.01,1208.55 L1292.00,1208.83 L1294.50,1209.54 L1296.04,1209.97 L1297.00,1210.24 L1299.50,1210.93 L1301.09,1211.37 L1302.00,1211.62 L1304.50,1212.30 L1306.17,1212.76 L1307.00,1212.98 L1309.50,1213.65 L1311.27,1214.13 L1312.00,1214.32 L1314.50,1214.98 L1316.41,1215.49 L1317.00,1215.64 L1319.50,1216.29 L1321.57,1216.83 L1322.00,1216.94 L1324.50,1217.58 L1326.76,1218.16 L1327.00,1218.22 L1329.50,1218.85 L1331.98,1219.47 L1332.00,1219.47 L1334.50,1220.09 L1337.00,1220.71 L1337.23,1220.77 L1339.50,1221.32 L1342.00,1221.93 L1342.51,1222.05 L1344.50,1222.53 L1347.00,1223.13 L1347.81,1223.32 L1349.50,1223.72 L1352.00,1224.31 L1353.15,1224.58 L1354.50,1224.89 L1357.00,1225.47 L1358.51,1225.82 L1359.50,1226.05 L1362.00,1226.62 L1363.90,1227.05 L1364.50,1227.18 L1367.00,1227.74 L1369.33,1228.26 L1369.50,1228.30 L1372.00,1228.85 L1374.50,1229.40 L1374.78,1229.46 L1377.00,1229.94 L1379.50,1230.48 L1380.26,1230.64 L1382.00,1231.02 L1384.50,1231.55 L1385.77,1231.81 L1387.00,1232.07 L1389.50,1232.59 L1391.31,1232.97 L1392.00,1233.11 L1394.50,1233.63 L1396.88,1234.11 L1397.00,1234.14 L1399.50,1234.64 L1402.00,1235.14 L1402.49,1235.24 L1404.50,1235.64 L1407.00,1236.14 L1408.12,1236.36 L1409.50,1236.63 L1412.00,1237.11 L1413.78,1237.46 L1414.50,1237.59 L1417.00,1238.07 L1419.48,1238.54 L1419.50,1238.55 L1422.00,1239.02 L1424.50,1239.49 L1425.20,1239.62 L1427.00,1239.95 L1429.50,1240.41 L1430.96,1240.68 L1432.00,1240.86 L1434.50,1241.32 L1436.75,1241.72 L1437.00,1241.77 L1439.50,1242.21 L1442.00,1242.65 L1442.57,1242.75 L1444.50,1243.09 L1447.00,1243.53 L1448.42,1243.77 L1449.50,1243.96 L1452.00,1244.38 L1454.30,1244.77 L1454.50,1244.81 L1457.00,1245.23 L1459.50,1245.65 L1460.22,1245.77 L1462.00,1246.06 L1464.50,1246.47 L1466.16,1246.74 L1467.00,1246.88 L1469.50,1247.28 L1472.00,1247.68 L1472.14,1247.71 L1474.50,1248.08 L1477.00,1248.47 L1478.16,1248.66 L1479.50,1248.87 L1482.00,1249.25 L1484.20,1249.59 L1484.50,1249.64 L1487.00,1250.02 L1489.50,1250.40 L1490.28,1250.51 L1492.00,1250.77 L1494.50,1251.14 L1496.39,1251.42 L1497.00,1251.51 L1499.50,1251.88 L1502.00,1252.24 L1502.54,1252.32 L1504.50,1252.60 L1507.00,1252.96 L1508.72,1253.20 L1509.50,1253.31 L1512.00,1253.67 L1514.50,1254.01 L1514.93,1254.07 L1517.00,1254.36 L1519.50,1254.70 L1521.17,1254.93 L1522.00,1255.04 L1524.50,1255.38 L1527.00,1255.71 L1527.45,1255.77 L1529.50,1256.04 L1532.00,1256.37 L1533.77,1256.60 L1534.50,1256.70 L1537.00,1257.02 L1539.50,1257.34 L1540.12,1257.42 L1542.00,1257.66 L1544.50,1257.97 L1546.50,1258.22 L1547.00,1258.29 L1549.50,1258.59 L1552.00,1258.90 L1552.92,1259.01 L1554.50,1259.21 L1557.00,1259.51 L1559.37,1259.79 L1559.50,1259.81 L1562.00,1260.10 L1564.50,1260.40 L1565.86,1260.56 L1567.00,1260.69 L1569.50,1260.98 L1572.00,1261.27 L1572.39,1261.31 L1574.50,1261.55 L1577.00,1261.83 L1578.95,1262.05 L1579.50,1262.11 L1582.00,1262.39 L1584.50,1262.66 L1585.54,1262.78 L1587.00,1262.94 L1589.50,1263.21 L1592.00,1263.47 L1592.17,1263.49 L1594.50,1263.74 L1597.00,1264.00 L1598.84,1264.20 L1599.50,1264.27 L1602.00,1264.52 L1604.50,1264.78 L1605.54,1264.89 L1607.00,1265.04 L1609.50,1265.29 L1612.00,1265.54 L1612.28,1265.57 L1614.50,1265.79 L1617.00,1266.03 L1619.06,1266.24 L1619.50,1266.28 L1622.00,1266.52 L1624.50,1266.76 L1625.88,1266.89 L1627.00,1267.00 L1629.50,1267.24 L1632.00,1267.47 L1632.73,1267.54 L1634.50,1267.70 L1637.00,1267.93 L1639.50,1268.16 L1639.62,1268.17 L1642.00,1268.39 L1644.50,1268.61 L1646.54,1268.79 L1647.00,1268.83 L1649.50,1269.05 L1652.00,1269.27 L1653.51,1269.40 L1654.50,1269.49 L1657.00,1269.71 L1659.50,1269.92 L1660.51,1270.01 L1662.00,1270.13 L1664.50,1270.34 L1667.00,1270.55 L1667.55,1270.60 L1669.50,1270.76 L1672.00,1270.96 L1674.50,1271.16 L1674.63,1271.17 L1677.00,1271.37 L1679.50,1271.56 L1681.74,1271.74 L1682.00,1271.76 L1684.50,1271.96 L1687.00,1272.15 L1688.90,1272.30 L1689.50,1272.35 L1692.00,1272.54 L1694.50,1272.73 L1696.10,1272.85 L1697.00,1272.92 L1699.50,1273.10 L1702.00,1273.29 L1703.33,1273.39 L1704.50,1273.47 L1707.00,1273.65 L1709.50,1273.83 L1710.60,1273.91 L1712.00,1274.01 L1714.50,1274.19 L1717.00,1274.37 L1717.92,1274.43 L1719.50,1274.54 L1722.00,1274.71 L1724.50,1274.89 L1725.27,1274.94 L1727.00,1275.06 L1729.50,1275.22 L1732.00,1275.39 L1732.67,1275.44 L1734.50,1275.56 L1737.00,1275.72 L1739.50,1275.89 L1740.10,1275.93 L1742.00,1276.05 L1744.50,1276.21 L1747.00,1276.37 L1747.57,1276.40 L1749.50,1276.53 L1752.00,1276.68 L1754.50,1276.84 L1755.09,1276.87 L1757.00,1276.99 L1759.50,1277.14 L1762.00,1277.30 L1762.65,1277.34 L1764.50,1277.45 L1767.00,1277.60 L1769.50,1277.74 L1770.24,1277.79 L1772.00,1277.89 L1774.50,1278.04 L1777.00,1278.18 L1777.88,1278.23 L1779.50,1278.32 L1782.00,1278.46 L1784.50,1278.60 L1785.56,1278.66 L1787.00,1278.74 L1789.50,1278.88 L1792.00,1279.02 L1793.28,1279.09 L1794.50,1279.16 L1797.00,1279.29 L1799.50,1279.42 L1801.05,1279.51 L1802.00,1279.56 L1804.50,1279.69 L1807.00,1279.82 L1808.86,1279.91 L1809.50,1279.95 L1812.00,1280.08 L1814.50,1280.20 L1816.71,1280.32 L1817.00,1280.33 L1819.50,1280.46 L1822.00,1280.58 L1824.50,1280.70 L1824.60,1280.71 L1827.00,1280.82 L1829.50,1280.95 L1832.00,1281.07 L1832.53,1281.09 L1834.50,1281.19 L1837.00,1281.30 L1839.50,1281.42 L1840.51,1281.47 L1842.00,1281.54 L1844.50,1281.65 L1847.00,1281.77 L1848.54,1281.84 L1849.50,1281.88 L1852.00,1281.99 L1854.50,1282.10 L1856.60,1282.20 L1857.00,1282.22 L1859.50,1282.32 L1862.00,1282.43 L1864.50,1282.54 L1864.71,1282.55 L1867.00,1282.65 L1869.50,1282.76 L1872.00,1282.86 L1872.87,1282.90 L1874.50,1282.97 L1877.00,1283.07 L1879.50,1283.17 L1881.06,1283.24 L1882.00,1283.27 L1884.50,1283.38 L1887.00,1283.48 L1889.31,1283.57 L1889.50,1283.58 L1892.00,1283.67 L1894.50,1283.77 L1897.00,1283.87 L1897.60,1283.89 L1899.50,1283.97 L1902.00,1284.06 L1904.50,1284.16 L1905.93,1284.21 L1907.00,1284.25 L1909.50,1284.34 L1912.00,1284.44 L1914.31,1284.52 L1914.50,1284.53 L1917.00,1284.62 L1919.50,1284.71 L1922.00,1284.80 L1922.73,1284.83 L1924.50,1284.89 L1927.00,1284.98 L1929.50,1285.07 L1931.21,1285.12 L1932.00,1285.15 L1934.50,1285.24 L1937.00,1285.32 L1939.50,1285.41 L1939.72,1285.42 L1942.00,1285.49 L1944.50,1285.58 L1947.00,1285.66 L1948.29,1285.70 L1949.50,1285.74 L1952.00,1285.82 L1954.50,1285.90 L1956.90,1285.98 L1957.00,1285.98 L1959.50,1286.06 L1962.00,1286.14 L1964.50,1286.22 L1965.55,1286.26 L1967.00,1286.30 L1969.50,1286.38 L1972.00,1286.45 L1974.26,1286.52 L1974.50,1286.53 L1977.00,1286.61 L1979.50,1286.68 L1982.00,1286.76 L1983.01,1286.78 L1984.50,1286.83 L1987.00,1286.90 L1989.50,1286.97 L1991.81,1287.04 L1992.00,1287.05 L1994.50,1287.12 L1997.00,1287.19 L1999.50,1287.26 L2000.66,1287.29 L2002.00,1287.33 L2004.50,1287.40 L2007.00,1287.47 L2009.50,1287.54 L2009.55,1287.54 L2012.00,1287.60 L2014.50,1287.67 L2017.00,1287.74 L2018.50,1287.78 L2019.50,1287.81 L2022.00,1287.87 L2024.50,1287.94 L2027.00,1288.00 L2027.49,1288.01 L2029.50,1288.07 L2032.00,1288.13 L2034.50,1288.19 L2036.53,1288.24 L2037.00,1288.26 L2039.50,1288.32 L2042.00,1288.38 L2044.50,1288.44 L2045.62,1288.47 L2047.00,1288.50 L2049.50,1288.56 L2052.00,1288.63 L2054.50,1288.69 L2054.77,1288.69 L2057.00,1288.74 L2059.50,1288.80 L2062.00,1288.86 L2063.96,1288.91 L2064.50,1288.92 L2067.00,1288.98 L2069.50,1289.04 L2072.00,1289.09 L2073.20,1289.12 L2074.50,1289.15 L2077.00,1289.21 L2079.50,1289.26 L2082.00,1289.32 L2082.49,1289.33 L2084.50,1289.37 L2087.00,1289.43 L2089.50,1289.48 L2091.83,1289.53 L2092.00,1289.54 L2094.50,1289.59 L2097.00,1289.64 L2099.50,1289.69 L2101.23,1289.73 L2102.00,1289.75 L2104.50,1289.80 L2107.00,1289.85 L2109.50,1289.90 L2110.67,1289.93 L2112.00,1289.95 L2114.50,1290.00 L2117.00,1290.06 L2119.50,1290.11 L2120.17,1290.12 L2122.00,1290.16 L2124.50,1290.20 L2127.00,1290.25 L2129.50,1290.30 L2129.71,1290.31 L2132.00,1290.35 L2134.50,1290.40 L2137.00,1290.45 L2139.31,1290.49 L2139.50,1290.50 L2142.00,1290.54 L2144.50,1290.59 L2147.00,1290.64 L2148.97,1290.67 L2149.50,1290.68 L2152.00,1290.73 L2154.50,1290.77 L2157.00,1290.82 L2158.67,1290.85 L2159.50,1290.87 L2162.00,1290.91 L2164.50,1290.96 L2167.00,1291.00 L2168.43,1291.03 L2169.50,1291.04 L2172.00,1291.09 L2174.50,1291.13 L2177.00,1291.18 L2178.24,1291.20 L2179.50,1291.22 L2182.00,1291.26 L2184.50,1291.31 L2187.00,1291.35 L2188.11,1291.37 L2189.50,1291.39 L2192.00,1291.43 L2194.50,1291.47 L2197.00,1291.52 L2198.03,1291.53 L2199.50,1291.56 L2202.00,1291.60 L2204.50,1291.64 L2207.00,1291.68 L2208.00,1291.70 L2209.50,1291.72 L2212.00,1291.76 L2214.50,1291.80 L2217.00,1291.84 L2218.02,1291.86 L2219.50,1291.88 L2222.00,1291.92 L2224.50,1291.96 L2227.00,1292.00 L2228.11,1292.02 L2229.50,1292.04 L2232.00,1292.08 L2234.50,1292.12 L2237.00,1292.15 L2238.24,1292.17 L2239.50,1292.19 L2242.00,1292.23 L2244.50,1292.27 L2247.00,1292.31 L2248.44,1292.33 L2249.50,1292.34 L2252.00,1292.38 L2254.50,1292.42 L2257.00,1292.45 L2258.68,1292.48 L2259.50,1292.49 L2262.00,1292.53 L2264.50,1292.56 L2267.00,1292.60 L2268.99,1292.63 L2269.50,1292.64 L2272.00,1292.67 L2274.50,1292.71 L2277.00,1292.74 L2279.35,1292.78 L2279.50,1292.78 L2282.00,1292.82 L2284.50,1292.85 L2287.00,1292.89 L2289.50,1292.92 L2289.76,1292.93 L2292.00,1292.96 L2294.50,1292.99 L2297.00,1293.03 L2299.50,1293.06 L2300.24,1293.07 L2302.00,1293.10 L2304.50,1293.13 L2307.00,1293.16 L2309.50,1293.20 L2310.77,1293.21 L2312.00,1293.23 L2314.50,1293.27 L2317.00,1293.30 L2319.50,1293.33 L2321.35,1293.36 L2322.00,1293.37 L2324.50,1293.40 L2327.00,1293.43 L2329.50,1293.47 L2332.00,1293.50 L2332.00,1293.50" stroke="#ff7f0e" stroke-width="18.0"/>
<path d="M387.90,1268.40 L388.27,1271.22 L388.65,1274.01 L389.04,1276.79 L389.43,1279.54 L389.83,1282.27 L390.24,1284.99 L390.40,1285.99 L390.66,1287.69 L391.09,1290.38 L391.53,1293.05 L391.97,1295.72 L392.43,1298.39 L392.89,1301.04 L392.90,1301.06 L393.37,1303.70 L393.85,1306.35 L394.35,1309.00 L394.85,1311.66 L395.37,1314.32 L395.39,1314.46 L395.89,1316.98 L396.43,1319.66 L396.98,1322.34 L397.53,1325.04 L397.89,1326.75 L398.11,1327.75 L398.69,1330.48 L399.28,1333.23 L399.89,1335.99 L400.39,1338.26 L400.51,1338.78 L401.14,1341.59 L401.79,1344.43 L402.44,1347.29 L402.89,1349.21 L403.12,1350.18 L403.80,1353.11 L404.50,1356.07 L405.22,1359.06 L405.39,1359.77 L405.95,1362.09 L406.69,1365.16 L407.45,1368.28 L407.89,1370.05 L408.23,1371.43 L409.02,1374.63 L409.83,1377.88 L410.38,1380.10 L410.65,1381.17 L411.50,1384.52 L412.36,1387.92 L412.88,1389.99 L413.23,1391.37 L414.13,1394.88 L415.04,1398.44 L415.38,1399.75 L415.98,1402.05 L416.93,1405.71 L417.88,1409.32 L417.90,1409.40 L418.89,1413.12 L419.91,1416.87 L420.38,1418.60 L420.94,1420.64 L422.00,1424.43 L422.88,1427.53 L423.07,1428.22 L424.17,1432.02 L425.30,1435.82 L425.37,1436.08 L426.44,1439.61 L427.61,1443.38 L427.87,1444.22 L428.80,1447.14 L430.02,1450.87 L430.37,1451.92 L431.27,1454.58 L432.54,1458.25 L432.87,1459.19 L433.83,1461.87 L435.15,1465.45 L435.37,1466.02 L436.50,1468.98 L437.87,1472.42 L437.88,1472.46 L439.29,1475.87 L440.36,1478.40 L440.72,1479.22 L442.19,1482.52 L442.86,1484.00 L443.69,1485.76 L445.21,1488.95 L445.36,1489.26 L446.77,1492.08 L447.86,1494.20 L448.36,1495.16 L449.98,1498.18 L450.36,1498.86 L451.64,1501.15 L452.86,1503.26 L453.33,1504.07 L455.06,1506.94 L455.35,1507.42 L456.82,1509.75 L457.85,1511.35 L458.62,1512.52 L460.35,1515.09 L460.46,1515.24 L462.33,1517.91 L462.85,1518.63 L464.24,1520.53 L465.35,1522.00 L466.20,1523.10 L467.85,1525.20 L468.19,1525.63 L470.22,1528.12 L470.34,1528.26 L472.30,1530.55 L472.84,1531.18 L474.42,1532.95 L475.34,1533.96 L476.58,1535.30 L477.84,1536.62 L478.79,1537.61 L480.34,1539.17 L481.05,1539.87 L482.84,1541.61 L483.35,1542.09 L485.33,1543.92 L485.70,1544.24 L487.83,1546.09 L488.09,1546.31 L490.33,1548.12 L490.54,1548.28 L492.83,1549.99 L493.04,1550.13 L495.33,1551.69 L495.59,1551.86 L497.83,1553.22 L498.19,1553.43 L500.32,1554.59 L500.84,1554.85 L502.82,1555.79 L503.55,1556.12 L505.32,1556.85 L506.32,1557.24 L507.82,1557.77 L509.15,1558.21 L510.32,1558.56 L512.03,1559.03 L512.82,1559.22 L514.97,1559.69 L515.31,1559.76 L517.81,1560.19 L517.98,1560.21 L520.31,1560.51 L521.04,1560.58 L522.81,1560.73 L524.17,1560.81 L525.31,1560.85 L527.37,1560.88 L527.81,1560.88 L530.30,1560.82 L530.63,1560.81 L532.80,1560.68 L533.95,1560.59 L535.30,1560.46 L537.35,1560.22 L537.80,1560.16 L540.30,1559.79 L540.82,1559.71 L542.80,1559.35 L544.36,1559.05 L545.29,1558.85 L547.79,1558.28 L547.97,1558.24 L550.29,1557.66 L551.66,1557.29 L552.79,1556.98 L555.29,1556.24 L555.42,1556.20 L557.79,1555.44 L559.26,1554.95 L560.28,1554.60 L562.78,1553.70 L563.18,1553.55 L565.28,1552.74 L567.19,1551.98 L567.78,1551.73 L570.28,1550.67 L571.27,1550.24 L572.78,1549.56 L575.27,1548.39 L575.44,1548.31 L577.77,1547.18 L579.70,1546.21 L580.27,1545.91 L582.77,1544.60 L584.04,1543.91 L585.27,1543.23 L587.77,1541.82 L588.48,1541.41 L590.26,1540.36 L592.76,1538.85 L593.00,1538.70 L595.26,1537.29 L597.62,1535.78 L597.76,1535.69 L600.26,1534.04 L602.34,1532.63 L602.76,1532.35 L605.25,1530.61 L607.15,1529.26 L607.75,1528.83 L610.25,1527.01 L612.07,1525.66 L612.75,1525.14 L615.25,1523.25 L617.08,1521.83 L617.75,1521.31 L620.24,1519.34 L622.20,1517.78 L622.74,1517.34 L625.24,1515.32 L627.43,1513.52 L627.74,1513.26 L630.24,1511.17 L632.74,1509.06 L632.76,1509.04 L635.23,1506.93 L637.73,1504.77 L638.21,1504.36 L640.23,1502.60 L642.73,1500.40 L643.76,1499.48 L645.23,1498.18 L647.73,1495.95 L649.44,1494.41 L650.22,1493.70 L652.72,1491.43 L655.22,1489.15 L655.22,1489.14 L657.72,1486.85 L660.22,1484.54 L661.13,1483.69 L662.72,1482.22 L665.21,1479.89 L667.17,1478.06 L667.71,1477.55 L670.21,1475.20 L672.71,1472.83 L673.32,1472.25 L675.21,1470.46 L677.71,1468.08 L679.61,1466.26 L680.20,1465.68 L682.70,1463.28 L685.20,1460.87 L686.02,1460.08 L687.70,1458.46 L690.20,1456.03 L692.57,1453.72 L692.70,1453.60 L695.19,1451.16 L697.69,1448.72 L699.25,1447.18 L700.19,1446.26 L702.69,1443.81 L705.19,1441.34 L706.08,1440.46 L707.69,1438.87 L710.18,1436.40 L712.68,1433.92 L713.04,1433.56 L715.18,1431.43 L717.68,1428.94 L720.15,1426.48 L720.18,1426.45 L722.68,1423.95 L725.17,1421.45 L727.40,1419.21 L727.67,1418.94 L730.17,1416.43 L732.67,1413.92 L734.81,1411.76 L735.17,1411.40 L737.66,1408.88 L740.16,1406.36 L742.36,1404.13 L742.66,1403.83 L745.16,1401.31 L747.66,1398.78 L750.08,1396.32 L750.16,1396.24 L752.65,1393.71 L755.15,1391.17 L757.65,1388.63 L757.95,1388.33 L760.15,1386.10 L762.65,1383.55 L765.15,1381.01 L765.99,1380.15 L767.64,1378.47 L770.14,1375.92 L772.64,1373.38 L774.20,1371.79 L775.14,1370.83 L777.64,1368.28 L780.14,1365.73 L782.57,1363.25 L782.63,1363.18 L785.13,1360.64 L787.63,1358.09 L790.13,1355.54 L791.12,1354.53 L792.63,1352.99 L795.13,1350.43 L797.62,1347.88 L799.84,1345.62 L800.12,1345.33 L802.62,1342.78 L805.12,1340.23 L807.62,1337.68 L808.75,1336.53 L810.12,1335.13 L812.61,1332.59 L815.11,1330.04 L817.61,1327.49 L817.84,1327.26 L820.11,1324.94 L822.61,1322.40 L825.11,1319.85 L827.12,1317.80 L827.60,1317.31 L830.10,1314.76 L832.60,1312.22 L835.10,1309.68 L836.59,1308.16 L837.60,1307.14 L840.10,1304.60 L842.59,1302.06 L845.09,1299.52 L846.26,1298.34 L847.59,1296.99 L850.09,1294.45 L852.59,1291.92 L855.09,1289.39 L856.13,1288.33 L857.58,1286.86 L860.08,1284.33 L862.58,1281.80 L865.08,1279.27 L866.20,1278.14 L867.58,1276.75 L870.08,1274.23 L872.57,1271.71 L875.07,1269.19 L876.48,1267.77 L877.57,1266.67 L880.07,1264.15 L882.57,1261.63 L885.07,1259.12 L886.97,1257.21 L887.56,1256.61 L890.06,1254.10 L892.56,1251.59 L895.06,1249.08 L897.56,1246.58 L897.68,1246.45 L900.06,1244.08 L902.55,1241.57 L905.05,1239.07 L907.55,1236.58 L908.62,1235.51 L910.05,1234.08 L912.55,1231.59 L915.05,1229.09 L917.54,1226.60 L919.78,1224.38 L920.04,1224.11 L922.54,1221.63 L925.04,1219.14 L927.54,1216.66 L930.04,1214.18 L931.17,1213.05 L932.53,1211.70 L935.03,1209.22 L937.53,1206.74 L940.03,1204.27 L942.53,1201.80 L942.79,1201.54 L945.03,1199.33 L947.52,1196.86 L950.02,1194.40 L952.52,1191.93 L954.66,1189.83 L955.02,1189.47 L957.52,1187.02 L960.02,1184.56 L962.51,1182.12 L965.01,1179.67 L966.77,1177.95 L967.51,1177.24 L970.01,1174.80 L972.51,1172.38 L975.01,1169.96 L977.50,1167.54 L979.14,1165.97 L980.00,1165.14 L982.50,1162.74 L985.00,1160.35 L987.50,1157.96 L990.00,1155.59 L991.76,1153.92 L992.49,1153.22 L994.99,1150.87 L997.49,1148.52 L999.99,1146.18 L1002.49,1143.86 L1004.64,1141.86 L1004.99,1141.54 L1007.48,1139.23 L1009.98,1136.94 L1012.48,1134.65 L1014.98,1132.38 L1017.48,1130.11 L1017.79,1129.83 L1019.98,1127.86 L1022.47,1125.62 L1024.97,1123.40 L1027.47,1121.18 L1029.97,1118.98 L1031.21,1117.89 L1032.47,1116.79 L1034.97,1114.62 L1037.46,1112.45 L1039.96,1110.30 L1042.46,1108.17 L1044.91,1106.09 L1044.96,1106.05 L1047.46,1103.94 L1049.96,1101.84 L1052.45,1099.75 L1054.95,1097.68 L1057.45,1095.61 L1058.90,1094.42 L1059.95,1093.56 L1062.45,1091.52 L1064.95,1089.48 L1067.44,1087.46 L1069.94,1085.45 L1072.44,1083.44 L1073.17,1082.86 L1074.94,1081.44 L1077.44,1079.46 L1079.94,1077.48 L1082.43,1075.50 L1084.93,1073.54 L1087.43,1071.58 L1087.74,1071.34 L1089.93,1069.63 L1092.43,1067.68 L1094.92,1065.74 L1097.42,1063.80 L1099.92,1061.88 L1102.42,1059.95 L1102.61,1059.81 L1104.92,1058.03 L1107.42,1056.12 L1109.91,1054.21 L1112.41,1052.30 L1114.91,1050.40 L1117.41,1048.50 L1117.79,1048.22 L1119.91,1046.61 L1122.41,1044.72 L1124.90,1042.83 L1127.40,1040.94 L1129.90,1039.06 L1132.40,1037.18 L1133.28,1036.51 L1134.90,1035.30 L1137.40,1033.42 L1139.89,1031.54 L1142.39,1029.67 L1144.89,1027.80 L1147.39,1025.92 L1149.09,1024.65 L1149.89,1024.05 L1152.39,1022.19 L1154.88,1020.32 L1157.38,1018.45 L1159.88,1016.59 L1162.38,1014.73 L1164.88,1012.87 L1165.24,1012.60 L1167.38,1011.02 L1169.87,1009.16 L1172.37,1007.31 L1174.87,1005.46 L1177.37,1003.61 L1179.87,1001.77 L1181.71,1000.40 L1182.37,999.92 L1184.86,998.08 L1187.36,996.24 L1189.86,994.41 L1192.36,992.58 L1194.86,990.75 L1197.36,988.92 L1198.53,988.06 L1199.85,987.10 L1202.35,985.28 L1204.85,983.46 L1207.35,981.64 L1209.85,979.83 L1212.35,978.02 L1214.84,976.22 L1215.70,975.60 L1217.34,974.42 L1219.84,972.62 L1222.34,970.82 L1224.84,969.03 L1227.34,967.24 L1229.83,965.45 L1232.33,963.67 L1233.22,963.04 L1234.83,961.89 L1237.33,960.12 L1239.83,958.34 L1242.33,956.58 L1244.82,954.81 L1247.32,953.05 L1249.82,951.29 L1251.10,950.39 L1252.32,949.54 L1254.82,947.79 L1257.32,946.04 L1259.81,944.30 L1262.31,942.56 L1264.81,940.83 L1267.31,939.10 L1269.36,937.68 L1269.81,937.37 L1272.31,935.65 L1274.80,933.93 L1277.30,932.21 L1279.80,930.50 L1282.30,928.80 L1284.80,927.09 L1287.30,925.40 L1287.99,924.92 L1289.79,923.70 L1292.29,922.01 L1294.79,920.32 L1297.29,918.64 L1299.79,916.96 L1302.29,915.29 L1304.78,913.62 L1307.01,912.14 L1307.28,911.96 L1309.78,910.30 L1312.28,908.64 L1314.78,906.99 L1317.28,905.34 L1319.77,903.70 L1322.27,902.06 L1324.77,900.42 L1326.43,899.34 L1327.27,898.79 L1329.77,897.17 L1332.27,895.55 L1334.76,893.93 L1337.26,892.32 L1339.76,890.71 L1342.26,889.11 L1344.76,887.51 L1346.24,886.56 L1347.26,885.91 L1349.75,884.32 L1352.25,882.74 L1354.75,881.16 L1357.25,879.58 L1359.75,878.01 L1362.25,876.44 L1364.74,874.88 L1366.47,873.80 L1367.24,873.32 L1369.74,871.77 L1372.24,870.22 L1374.74,868.68 L1377.24,867.14 L1379.73,865.60 L1382.23,864.07 L1384.73,862.55 L1387.12,861.10 L1387.23,861.03 L1389.73,859.51 L1392.23,858.00 L1394.72,856.49 L1397.22,854.99 L1399.72,853.50 L1402.22,852.00 L1404.72,850.52 L1407.22,849.03 L1408.19,848.46 L1409.71,847.55 L1412.21,846.08 L1414.71,844.61 L1417.21,843.15 L1419.71,841.69 L1422.21,840.23 L1424.70,838.78 L1427.20,837.34 L1429.70,835.90 L1429.70,835.90 L1429.70,835.90 L1432.20,836.57 L1432.99,836.78 L1434.70,837.23 L1436.28,837.65 L1437.20,837.89 L1439.59,838.51 L1439.70,838.54 L1442.20,839.19 L1442.90,839.37 L1444.70,839.83 L1446.23,840.23 L1447.20,840.47 L1449.56,841.07 L1449.70,841.11 L1452.20,841.73 L1452.91,841.91 L1454.69,842.36 L1456.27,842.75 L1457.19,842.98 L1459.64,843.58 L1459.69,843.59 L1462.19,844.20 L1463.01,844.40 L1464.69,844.81 L1466.40,845.22 L1467.19,845.41 L1469.69,846.01 L1469.80,846.04 L1472.19,846.60 L1473.21,846.84 L1474.69,847.19 L1476.63,847.65 L1477.19,847.78 L1479.69,848.36 L1480.06,848.44 L1482.19,848.93 L1483.50,849.23 L1484.69,849.50 L1486.96,850.02 L1487.19,850.07 L1489.69,850.64 L1490.42,850.80 L1492.19,851.20 L1493.89,851.58 L1494.69,851.75 L1497.19,852.30 L1497.38,852.34 L1499.68,852.85 L1500.87,853.11 L1502.18,853.39 L1504.38,853.87 L1504.68,853.93 L1507.18,854.47 L1507.89,854.62 L1509.68,855.00 L1511.42,855.37 L1512.18,855.53 L1514.68,856.05 L1514.96,856.11 L1517.18,856.57 L1518.51,856.85 L1519.68,857.09 L1522.07,857.58 L1522.18,857.60 L1524.68,858.11 L1525.64,858.31 L1527.18,858.62 L1529.22,859.03 L1529.68,859.12 L1532.18,859.62 L1532.82,859.75 L1534.68,860.11 L1536.42,860.46 L1537.18,860.61 L1539.68,861.09 L1540.04,861.16 L1542.18,861.58 L1543.67,861.87 L1544.67,862.06 L1547.17,862.54 L1547.31,862.56 L1549.67,863.01 L1550.96,863.25 L1552.17,863.48 L1554.62,863.94 L1554.67,863.95 L1557.17,864.41 L1558.29,864.62 L1559.67,864.88 L1561.97,865.30 L1562.17,865.33 L1564.67,865.79 L1565.67,865.97 L1567.17,866.24 L1569.38,866.63 L1569.67,866.69 L1572.17,867.13 L1573.09,867.30 L1574.67,867.57 L1576.82,867.95 L1577.17,868.01 L1579.67,868.45 L1580.56,868.60 L1582.17,868.88 L1584.32,869.25 L1584.67,869.31 L1587.17,869.74 L1588.08,869.89 L1589.66,870.16 L1591.86,870.53 L1592.16,870.58 L1594.66,871.00 L1595.65,871.16 L1597.16,871.42 L1599.45,871.79 L1599.66,871.83 L1602.16,872.24 L1603.26,872.41 L1604.66,872.64 L1607.08,873.03 L1607.16,873.05 L1609.66,873.45 L1610.92,873.65 L1612.16,873.85 L1614.66,874.24 L1614.76,874.26 L1617.16,874.63 L1618.62,874.86 L1619.66,875.02 L1622.16,875.41 L1622.49,875.46 L1624.66,875.79 L1626.38,876.06 L1627.16,876.18 L1629.66,876.56 L1630.27,876.65 L1632.16,876.93 L1634.18,877.23 L1634.65,877.31 L1637.15,877.68 L1638.10,877.82 L1639.65,878.05 L1642.03,878.39 L1642.15,878.41 L1644.65,878.78 L1645.97,878.97 L1647.15,879.14 L1649.65,879.50 L1649.93,879.54 L1652.15,879.85 L1653.90,880.10 L1654.65,880.21 L1657.15,880.56 L1657.88,880.66 L1659.65,880.91 L1661.87,881.22 L1662.15,881.26 L1664.65,881.60 L1665.87,881.77 L1667.15,881.94 L1669.65,882.28 L1669.89,882.32 L1672.15,882.62 L1673.92,882.86 L1674.65,882.96 L1677.15,883.29 L1677.96,883.40 L1679.64,883.62 L1682.02,883.93 L1682.14,883.95 L1684.64,884.27 L1686.09,884.46 L1687.14,884.60 L1689.64,884.92 L1690.17,884.99 L1692.14,885.24 L1694.26,885.51 L1694.64,885.56 L1697.14,885.87 L1698.36,886.03 L1699.64,886.19 L1702.14,886.50 L1702.48,886.54 L1704.64,886.81 L1706.61,887.05 L1707.14,887.12 L1709.64,887.42 L1710.76,887.56 L1712.14,887.72 L1714.64,888.03 L1714.91,888.06 L1717.14,888.32 L1719.08,888.56 L1719.64,888.62 L1722.14,888.92 L1723.26,889.05 L1724.63,889.21 L1727.13,889.50 L1727.46,889.54 L1729.63,889.79 L1731.67,890.03 L1732.13,890.08 L1734.63,890.36 L1735.89,890.51 L1737.13,890.65 L1739.63,890.93 L1740.12,890.99 L1742.13,891.21 L1744.37,891.46 L1744.63,891.49 L1747.13,891.76 L1748.63,891.93 L1749.63,892.04 L1752.13,892.31 L1752.91,892.40 L1754.63,892.58 L1757.13,892.85 L1757.19,892.86 L1759.63,893.12 L1761.49,893.32 L1762.13,893.39 L1764.63,893.65 L1765.81,893.77 L1767.13,893.91 L1769.62,894.17 L1770.14,894.23 L1772.12,894.43 L1774.48,894.67 L1774.62,894.69 L1777.12,894.94 L1778.83,895.12 L1779.62,895.20 L1782.12,895.45 L1783.20,895.56 L1784.62,895.70 L1787.12,895.95 L1787.58,896.00 L1789.62,896.20 L1791.97,896.43 L1792.12,896.44 L1794.62,896.69 L1796.38,896.86 L1797.12,896.93 L1799.62,897.17 L1800.80,897.29 L1802.12,897.41 L1804.62,897.65 L1805.24,897.71 L1807.12,897.89 L1809.62,898.12 L1809.69,898.13 L1812.12,898.35 L1814.15,898.54 L1814.61,898.59 L1817.11,898.82 L1818.63,898.96 L1819.61,899.05 L1822.11,899.27 L1823.12,899.37 L1824.61,899.50 L1827.11,899.73 L1827.63,899.77 L1829.61,899.95 L1832.11,900.17 L1832.14,900.17 L1834.61,900.39 L1836.68,900.57 L1837.11,900.61 L1839.61,900.83 L1841.22,900.97 L1842.11,901.05 L1844.61,901.26 L1845.79,901.36 L1847.11,901.47 L1849.61,901.69 L1850.36,901.75 L1852.11,901.90 L1854.61,902.11 L1854.95,902.14 L1857.11,902.32 L1859.55,902.52 L1859.60,902.52 L1862.10,902.73 L1864.17,902.90 L1864.60,902.94 L1867.10,903.14 L1868.80,903.28 L1869.60,903.34 L1872.10,903.54 L1873.45,903.65 L1874.60,903.74 L1877.10,903.94 L1878.11,904.02 L1879.60,904.14 L1882.10,904.33 L1882.79,904.39 L1884.60,904.53 L1887.10,904.72 L1887.48,904.75 L1889.60,904.91 L1892.10,905.11 L1892.18,905.11 L1894.60,905.30 L1896.90,905.47 L1897.10,905.49 L1899.60,905.67 L1901.63,905.83 L1902.10,905.86 L1904.59,906.05 L1906.38,906.18 L1907.09,906.23 L1909.59,906.41 L1911.14,906.53 L1912.09,906.60 L1914.59,906.78 L1915.92,906.87 L1917.09,906.96 L1919.59,907.14 L1920.72,907.22 L1922.09,907.31 L1924.59,907.49 L1925.52,907.56 L1927.09,907.67 L1929.59,907.84 L1930.35,907.89 L1932.09,908.02 L1934.59,908.19 L1935.18,908.23 L1937.09,908.36 L1939.59,908.53 L1940.03,908.56 L1942.09,908.70 L1944.59,908.87 L1944.90,908.89 L1947.09,909.04 L1949.58,909.20 L1949.78,909.22 L1952.08,909.37 L1954.58,909.53 L1954.68,909.54 L1957.08,909.70 L1959.58,909.86 L1959.59,909.86 L1962.08,910.02 L1964.52,910.18 L1964.58,910.18 L1967.08,910.34 L1969.47,910.50 L1969.58,910.50 L1972.08,910.66 L1974.42,910.81 L1974.58,910.82 L1977.08,910.98 L1979.40,911.12 L1979.58,911.13 L1982.08,911.29 L1984.39,911.43 L1984.58,911.44 L1987.08,911.59 L1989.39,911.73 L1989.58,911.74 L1992.08,911.90 L1994.41,912.04 L1994.57,912.05 L1997.07,912.20 L1999.45,912.34 L1999.57,912.34 L2002.07,912.49 L2004.50,912.63 L2004.57,912.64 L2007.07,912.78 L2009.57,912.93 L2009.57,912.93 L2012.07,913.07 L2014.57,913.22 L2014.65,913.22 L2017.07,913.36 L2019.57,913.50 L2019.75,913.51 L2022.07,913.64 L2024.57,913.78 L2024.86,913.80 L2027.07,913.92 L2029.57,914.06 L2029.99,914.09 L2032.07,914.20 L2034.57,914.34 L2035.14,914.37 L2037.07,914.48 L2039.56,914.61 L2040.30,914.65 L2042.06,914.75 L2044.56,914.88 L2045.48,914.93 L2047.06,915.02 L2049.56,915.15 L2050.68,915.21 L2052.06,915.28 L2054.56,915.41 L2055.89,915.48 L2057.06,915.54 L2059.56,915.67 L2061.11,915.75 L2062.06,915.80 L2064.56,915.93 L2066.36,916.02 L2067.06,916.06 L2069.56,916.19 L2071.61,916.29 L2072.06,916.31 L2074.56,916.44 L2076.89,916.56 L2077.06,916.57 L2079.56,916.69 L2082.06,916.82 L2082.18,916.82 L2084.55,916.94 L2087.05,917.06 L2087.49,917.08 L2089.55,917.18 L2092.05,917.31 L2092.81,917.34 L2094.55,917.43 L2097.05,917.55 L2098.15,917.60 L2099.55,917.67 L2102.05,917.79 L2103.51,917.86 L2104.55,917.90 L2107.05,918.02 L2108.89,918.11 L2109.55,918.14 L2112.05,918.26 L2114.28,918.36 L2114.55,918.37 L2117.05,918.49 L2119.55,918.60 L2119.68,918.61 L2122.05,918.72 L2124.55,918.83 L2125.11,918.86 L2127.05,918.95 L2129.54,919.06 L2130.55,919.10 L2132.04,919.17 L2134.54,919.28 L2136.01,919.35 L2137.04,919.39 L2139.54,919.50 L2141.48,919.59 L2142.04,919.61 L2144.54,919.72 L2146.98,919.83 L2147.04,919.83 L2149.54,919.94 L2152.04,920.05 L2152.48,920.07 L2154.54,920.16 L2157.04,920.26 L2158.01,920.30 L2159.54,920.37 L2162.04,920.48 L2163.55,920.54 L2164.54,920.58 L2167.04,920.69 L2169.11,920.77 L2169.54,920.79 L2172.04,920.89 L2174.53,921.00 L2174.69,921.00 L2177.03,921.10 L2179.53,921.20 L2180.29,921.23 L2182.03,921.31 L2184.53,921.41 L2185.90,921.46 L2187.03,921.51 L2189.53,921.61 L2191.53,921.69 L2192.03,921.71 L2194.53,921.81 L2197.03,921.91 L2197.17,921.91 L2199.53,922.01 L2202.03,922.10 L2202.84,922.14 L2204.53,922.20 L2207.03,922.30 L2208.52,922.36 L2209.53,922.40 L2212.03,922.49 L2214.22,922.58 L2214.53,922.59 L2217.03,922.69 L2219.52,922.78 L2219.94,922.80 L2222.02,922.88 L2224.52,922.97 L2225.67,923.01 L2227.02,923.07 L2229.52,923.16 L2231.43,923.23 L2232.02,923.25 L2234.52,923.35 L2237.02,923.44 L2237.20,923.44 L2239.52,923.53 L2242.02,923.62 L2242.99,923.66 L2244.52,923.71 L2247.02,923.81 L2248.79,923.87 L2249.52,923.90 L2252.02,923.99 L2254.52,924.08 L2254.62,924.08 L2257.02,924.17 L2259.52,924.26 L2260.46,924.29 L2262.02,924.34 L2264.51,924.43 L2266.32,924.50 L2267.01,924.52 L2269.51,924.61 L2272.01,924.70 L2272.20,924.70 L2274.51,924.78 L2277.01,924.87 L2278.10,924.91 L2279.51,924.96 L2282.01,925.04 L2284.01,925.11 L2284.51,925.13 L2287.01,925.21 L2289.51,925.30 L2289.95,925.31 L2292.01,925.38 L2294.51,925.47 L2295.90,925.52 L2297.01,925.55 L2299.51,925.64 L2301.87,925.72 L2302.01,925.72 L2304.51,925.80 L2307.01,925.89 L2307.86,925.91 L2309.50,925.97 L2312.00,926.05 L2313.86,926.11 L2314.50,926.13 L2317.00,926.22 L2319.50,926.30 L2319.89,926.31 L2322.00,926.38 L2324.50,926.46 L2325.94,926.51 L2327.00,926.54 L2329.50,926.62 L2332.00,926.70 L2332.00,926.70" stroke="#2ca02c" stroke-width="18.0"/>
<path d="M388.00,942.70 L388.43,945.25 L388.87,947.78 L389.32,950.31 L389.78,952.83 L390.25,955.34 L390.50,956.63 L390.73,957.85 L391.23,960.35 L391.74,962.84 L392.25,965.33 L392.79,967.81 L393.00,968.79 L393.33,970.29 L393.89,972.77 L394.46,975.25 L395.04,977.72 L395.50,979.62 L395.64,980.20 L396.25,982.67 L396.87,985.15 L397.51,987.62 L397.99,989.45 L398.17,990.11 L398.84,992.59 L399.53,995.08 L400.24,997.57 L400.49,998.47 L400.96,1000.07 L401.70,1002.57 L402.45,1005.08 L402.99,1006.85 L403.23,1007.60 L404.02,1010.13 L404.83,1012.67 L405.49,1014.70 L405.66,1015.21 L406.51,1017.77 L407.38,1020.34 L407.99,1022.10 L408.27,1022.92 L409.19,1025.51 L410.12,1028.12 L410.49,1029.13 L411.08,1030.74 L412.06,1033.38 L412.99,1035.83 L413.06,1036.03 L414.09,1038.69 L415.14,1041.37 L415.49,1042.24 L416.22,1044.06 L417.32,1046.75 L417.98,1048.35 L418.45,1049.45 L419.60,1052.16 L420.48,1054.18 L420.79,1054.87 L422.00,1057.59 L422.98,1059.75 L423.24,1060.30 L424.51,1063.02 L425.48,1065.06 L425.81,1065.74 L427.14,1068.45 L427.98,1070.12 L428.50,1071.16 L429.90,1073.86 L430.48,1074.96 L431.33,1076.56 L432.79,1079.24 L432.98,1079.58 L434.29,1081.92 L435.48,1083.99 L435.82,1084.58 L437.39,1087.24 L437.97,1088.20 L439.00,1089.87 L440.47,1092.22 L440.65,1092.49 L442.33,1095.10 L442.97,1096.07 L444.06,1097.68 L445.47,1099.74 L445.82,1100.25 L447.63,1102.79 L447.97,1103.25 L449.49,1105.29 L450.47,1106.58 L451.38,1107.76 L452.97,1109.74 L453.32,1110.17 L455.31,1112.54 L455.47,1112.72 L457.35,1114.84 L457.96,1115.52 L459.43,1117.08 L460.46,1118.14 L461.56,1119.24 L462.96,1120.59 L463.75,1121.32 L465.46,1122.86 L465.98,1123.32 L467.96,1124.96 L468.27,1125.21 L470.46,1126.89 L470.62,1127.01 L472.96,1128.66 L473.02,1128.70 L475.46,1130.26 L475.47,1130.28 L477.95,1131.72 L477.99,1131.74 L480.45,1133.02 L480.57,1133.08 L482.95,1134.18 L483.20,1134.30 L485.45,1135.22 L485.90,1135.39 L487.95,1136.12 L488.67,1136.36 L490.45,1136.90 L491.50,1137.19 L492.95,1137.57 L494.40,1137.90 L495.44,1138.12 L497.37,1138.47 L497.94,1138.56 L500.40,1138.90 L500.44,1138.91 L502.94,1139.15 L503.51,1139.19 L505.44,1139.30 L506.70,1139.34 L507.94,1139.36 L509.96,1139.34 L510.44,1139.33 L512.94,1139.22 L513.30,1139.20 L515.43,1139.03 L516.72,1138.90 L517.93,1138.76 L520.22,1138.45 L520.43,1138.41 L522.93,1138.00 L523.80,1137.84 L525.43,1137.51 L527.47,1137.07 L527.93,1136.96 L530.43,1136.35 L531.23,1136.14 L532.93,1135.67 L535.07,1135.04 L535.42,1134.93 L537.92,1134.14 L539.01,1133.77 L540.42,1133.29 L542.92,1132.38 L543.04,1132.34 L545.42,1131.43 L547.17,1130.73 L547.92,1130.43 L550.42,1129.37 L551.40,1128.95 L552.92,1128.27 L555.41,1127.13 L555.72,1126.98 L557.91,1125.94 L560.15,1124.84 L560.41,1124.71 L562.91,1123.44 L564.69,1122.51 L565.41,1122.13 L567.91,1120.78 L569.33,1120.00 L570.41,1119.40 L572.90,1117.99 L574.09,1117.30 L575.40,1116.54 L577.90,1115.06 L578.96,1114.43 L580.40,1113.55 L582.90,1112.01 L583.94,1111.36 L585.40,1110.45 L587.90,1108.86 L589.05,1108.12 L590.40,1107.24 L592.89,1105.60 L594.27,1104.69 L595.39,1103.94 L597.89,1102.26 L599.62,1101.08 L600.39,1100.55 L602.89,1098.83 L605.10,1097.29 L605.39,1097.09 L607.89,1095.32 L610.39,1093.54 L610.71,1093.31 L612.88,1091.75 L615.38,1089.94 L616.45,1089.16 L617.88,1088.11 L620.38,1086.26 L622.33,1084.82 L622.88,1084.41 L625.38,1082.54 L627.88,1080.66 L628.35,1080.30 L630.38,1078.76 L632.87,1076.85 L634.51,1075.60 L635.37,1074.94 L637.87,1073.01 L640.37,1071.07 L640.82,1070.72 L642.87,1069.12 L645.37,1067.16 L647.28,1065.66 L647.87,1065.19 L650.37,1063.22 L652.86,1061.23 L653.89,1060.41 L655.36,1059.24 L657.86,1057.24 L660.36,1055.24 L660.67,1054.99 L662.86,1053.22 L665.36,1051.20 L667.60,1049.39 L667.86,1049.18 L670.35,1047.15 L672.85,1045.11 L674.70,1043.60 L675.35,1043.07 L677.85,1041.02 L680.35,1038.97 L681.97,1037.64 L682.85,1036.92 L685.35,1034.86 L687.85,1032.79 L689.41,1031.50 L690.34,1030.72 L692.84,1028.65 L695.34,1026.58 L697.03,1025.18 L697.84,1024.50 L700.34,1022.42 L702.84,1020.33 L704.83,1018.66 L705.34,1018.23 L707.84,1016.13 L710.33,1014.03 L712.82,1011.93 L712.83,1011.91 L715.33,1009.79 L717.83,1007.67 L720.33,1005.53 L721.00,1004.96 L722.83,1003.39 L725.33,1001.24 L727.83,999.08 L729.37,997.74 L730.32,996.91 L732.82,994.74 L735.32,992.55 L737.82,990.36 L737.94,990.25 L740.32,988.16 L742.82,985.94 L745.32,983.72 L746.72,982.47 L747.81,981.49 L750.31,979.25 L752.81,977.00 L755.31,974.74 L755.70,974.38 L757.81,972.47 L760.31,970.21 L762.81,967.94 L764.91,966.03 L765.31,965.67 L767.80,963.41 L770.30,961.15 L772.80,958.90 L774.33,957.53 L775.30,956.65 L777.80,954.41 L780.30,952.18 L782.80,949.96 L783.97,948.91 L785.30,947.74 L787.79,945.53 L790.29,943.32 L792.79,941.12 L793.85,940.19 L795.29,938.92 L797.79,936.73 L800.29,934.55 L802.79,932.36 L803.96,931.34 L805.29,930.19 L807.78,928.02 L810.28,925.85 L812.78,923.69 L814.31,922.37 L815.28,921.53 L817.78,919.37 L820.28,917.22 L822.78,915.07 L824.91,913.24 L825.28,912.93 L827.77,910.79 L830.27,908.65 L832.77,906.52 L835.27,904.38 L835.76,903.97 L837.77,902.26 L840.27,900.13 L842.77,898.01 L845.26,895.89 L846.87,894.53 L847.76,893.77 L850.26,891.66 L852.76,889.54 L855.26,887.43 L857.76,885.33 L858.25,884.92 L860.26,883.23 L862.76,881.13 L865.25,879.03 L867.75,876.94 L869.89,875.15 L870.25,874.85 L872.75,872.76 L875.25,870.68 L877.75,868.60 L880.25,866.52 L881.82,865.22 L882.75,864.45 L885.24,862.38 L887.74,860.32 L890.24,858.26 L892.74,856.20 L894.03,855.14 L895.24,854.14 L897.74,852.09 L900.24,850.05 L902.74,848.00 L905.23,845.96 L906.53,844.91 L907.73,843.93 L910.23,841.90 L912.73,839.87 L915.23,837.84 L917.73,835.83 L919.33,834.54 L920.23,833.81 L922.72,831.80 L925.22,829.79 L927.72,827.79 L930.22,825.79 L932.43,824.02 L932.72,823.79 L935.22,821.80 L937.72,819.81 L940.22,817.83 L942.71,815.85 L945.21,813.87 L945.85,813.37 L947.71,811.90 L950.21,809.93 L952.71,807.97 L955.21,806.01 L957.71,804.06 L959.58,802.59 L960.21,802.11 L962.70,800.16 L965.20,798.22 L967.70,796.28 L970.20,794.35 L972.70,792.42 L973.65,791.69 L975.20,790.49 L977.70,788.57 L980.20,786.66 L982.69,784.74 L985.19,782.84 L987.69,780.93 L988.05,780.66 L990.19,779.03 L992.69,777.14 L995.19,775.25 L997.69,773.36 L1000.19,771.48 L1002.68,769.60 L1002.79,769.52 L1005.18,767.72 L1007.68,765.85 L1010.18,763.99 L1012.68,762.13 L1015.18,760.27 L1017.68,758.42 L1017.88,758.26 L1020.17,756.57 L1022.67,754.73 L1025.17,752.89 L1027.67,751.05 L1030.17,749.22 L1032.67,747.39 L1033.34,746.90 L1035.17,745.57 L1037.67,743.75 L1040.16,741.94 L1042.66,740.13 L1045.16,738.32 L1047.66,736.52 L1049.16,735.44 L1050.16,734.72 L1052.66,732.93 L1055.16,731.14 L1057.66,729.35 L1060.15,727.57 L1062.65,725.80 L1065.15,724.02 L1065.36,723.87 L1067.65,722.26 L1070.15,720.49 L1072.65,718.73 L1075.15,716.98 L1077.65,715.22 L1080.14,713.48 L1081.95,712.21 L1082.64,711.73 L1085.14,709.99 L1087.64,708.26 L1090.14,706.53 L1092.64,704.80 L1095.14,703.08 L1097.63,701.36 L1098.94,700.47 L1100.13,699.65 L1102.63,697.94 L1105.13,696.23 L1107.63,694.53 L1110.13,692.83 L1112.63,691.14 L1115.13,689.45 L1116.32,688.64 L1117.62,687.76 L1120.12,686.08 L1122.62,684.40 L1125.12,682.73 L1127.62,681.06 L1130.12,679.39 L1132.62,677.73 L1134.13,676.73 L1135.12,676.07 L1137.61,674.42 L1140.11,672.77 L1142.61,671.12 L1145.11,669.48 L1147.61,667.84 L1150.11,666.21 L1152.36,664.74 L1152.61,664.58 L1155.11,662.95 L1157.60,661.33 L1160.10,659.71 L1162.60,658.09 L1165.10,656.48 L1167.60,654.87 L1170.10,653.27 L1171.02,652.68 L1172.60,651.67 L1175.10,650.08 L1177.59,648.48 L1180.09,646.90 L1182.59,645.31 L1185.09,643.73 L1187.59,642.16 L1190.09,640.58 L1190.13,640.56 L1192.59,639.01 L1195.08,637.45 L1197.58,635.89 L1200.08,634.33 L1202.58,632.77 L1205.08,631.22 L1207.58,629.68 L1209.69,628.37 L1210.08,628.13 L1212.58,626.59 L1215.07,625.06 L1217.57,623.53 L1220.07,622.00 L1222.57,620.47 L1225.07,618.95 L1227.57,617.43 L1229.72,616.13 L1230.07,615.92 L1232.57,614.41 L1235.06,612.90 L1237.56,611.40 L1240.06,609.90 L1242.56,608.41 L1245.06,606.91 L1247.56,605.42 L1250.06,603.94 L1250.23,603.84 L1252.56,602.46 L1255.05,600.98 L1257.55,599.50 L1260.05,598.03 L1262.55,596.56 L1265.05,595.10 L1267.55,593.64 L1270.05,592.18 L1271.23,591.49 L1272.54,590.73 L1275.04,589.28 L1277.54,587.83 L1280.04,586.38 L1282.54,584.94 L1285.04,583.51 L1287.54,582.07 L1290.04,580.64 L1292.53,579.22 L1292.73,579.11 L1295.03,577.79 L1297.53,576.37 L1300.03,574.95 L1302.53,573.54 L1305.03,572.13 L1307.53,570.72 L1310.03,569.32 L1312.52,567.92 L1314.74,566.68 L1315.02,566.52 L1317.52,565.13 L1320.02,563.74 L1322.52,562.35 L1325.02,560.97 L1327.52,559.58 L1330.02,558.21 L1332.51,556.83 L1335.01,555.46 L1337.27,554.22 L1337.51,554.09 L1340.01,552.73 L1342.51,551.37 L1345.01,550.01 L1347.51,548.65 L1350.01,547.30 L1352.50,545.95 L1355.00,544.60 L1357.50,543.26 L1360.00,541.92 L1360.35,541.73 L1362.50,540.58 L1365.00,539.25 L1367.50,537.92 L1369.99,536.59 L1372.49,535.27 L1374.99,533.95 L1377.49,532.63 L1379.99,531.31 L1382.49,530.00 L1383.97,529.22 L1384.99,528.69 L1387.49,527.38 L1389.98,526.08 L1392.48,524.78 L1394.98,523.48 L1397.48,522.19 L1399.98,520.90 L1402.48,519.61 L1404.98,518.33 L1407.48,517.04 L1408.16,516.69 L1409.97,515.76 L1412.47,514.49 L1414.97,513.21 L1417.47,511.94 L1419.97,510.68 L1422.47,509.41 L1424.97,508.15 L1427.47,506.89 L1429.96,505.63 L1432.46,504.38 L1432.92,504.15 L1434.96,503.13 L1437.46,501.88 L1439.96,500.64 L1442.46,499.40 L1444.96,498.16 L1447.46,496.92 L1449.95,495.69 L1452.45,494.46 L1454.95,493.23 L1457.45,492.01 L1458.28,491.60 L1459.95,490.79 L1462.45,489.57 L1464.95,488.35 L1467.44,487.14 L1469.94,485.93 L1472.44,484.72 L1474.94,483.52 L1477.44,482.31 L1479.94,481.11 L1482.44,479.92 L1484.24,479.05 L1484.94,478.72 L1487.43,477.53 L1489.93,476.34 L1492.43,475.16 L1494.93,473.97 L1497.43,472.79 L1499.93,471.62 L1502.43,470.44 L1504.93,469.27 L1507.42,468.10 L1509.92,466.93 L1510.82,466.51 L1512.42,465.77 L1514.92,464.60 L1517.42,463.45 L1519.92,462.29 L1522.42,461.14 L1524.92,459.98 L1527.41,458.84 L1529.91,457.69 L1532.41,456.55 L1534.91,455.40 L1537.41,454.27 L1538.04,453.98 L1539.91,453.13 L1542.41,452.00 L1544.90,450.87 L1547.40,449.74 L1549.90,448.61 L1552.40,447.49 L1554.90,446.37 L1557.40,445.25 L1559.90,444.14 L1562.40,443.02 L1564.89,441.91 L1565.90,441.47 L1567.39,440.81 L1569.89,439.70 L1572.39,438.60 L1574.89,437.50 L1577.39,436.40 L1579.89,435.30 L1582.39,434.21 L1584.88,433.12 L1587.38,432.03 L1589.88,430.95 L1592.38,429.86 L1594.43,428.98 L1594.88,428.78 L1597.38,427.71 L1599.88,426.63 L1602.38,425.56 L1604.87,424.48 L1607.37,423.42 L1609.87,422.35 L1612.37,421.29 L1614.87,420.22 L1617.37,419.17 L1619.87,418.11 L1622.37,417.05 L1623.63,416.52 L1624.86,416.00 L1627.36,414.95 L1629.86,413.90 L1632.36,412.86 L1634.86,411.82 L1637.36,410.78 L1639.86,409.74 L1642.35,408.70 L1644.85,407.67 L1647.35,406.64 L1649.85,405.61 L1652.35,404.58 L1653.54,404.09 L1654.85,403.56 L1657.35,402.54 L1659.85,401.52 L1662.34,400.50 L1664.84,399.48 L1667.34,398.47 L1669.84,397.46 L1672.34,396.45 L1674.84,395.45 L1677.34,394.44 L1679.84,393.44 L1682.33,392.44 L1684.16,391.71 L1684.83,391.44 L1687.33,390.45 L1689.83,389.45 L1692.33,388.46 L1694.83,387.47 L1697.33,386.49 L1699.83,385.50 L1702.32,384.52 L1704.82,383.54 L1707.32,382.56 L1709.82,381.59 L1712.32,380.61 L1714.82,379.64 L1715.51,379.38 L1717.32,378.67 L1719.81,377.71 L1722.31,376.74 L1724.81,375.78 L1727.31,374.82 L1729.81,373.86 L1732.31,372.90 L1734.81,371.95 L1737.31,371.00 L1739.80,370.05 L1742.30,369.10 L1744.80,368.15 L1747.30,367.21 L1747.60,367.09 L1749.80,366.26 L1752.30,365.32 L1754.80,364.39 L1757.30,363.45 L1759.79,362.52 L1762.29,361.59 L1764.79,360.66 L1767.29,359.73 L1769.79,358.80 L1772.29,357.88 L1774.79,356.96 L1777.29,356.04 L1779.78,355.12 L1780.47,354.87 L1782.28,354.21 L1784.78,353.30 L1787.28,352.39 L1789.78,351.48 L1792.28,350.57 L1794.78,349.67 L1797.28,348.77 L1799.77,347.87 L1802.27,346.97 L1804.77,346.07 L1807.27,345.18 L1809.77,344.29 L1812.27,343.40 L1814.11,342.74 L1814.77,342.51 L1817.26,341.63 L1819.76,340.74 L1822.26,339.86 L1824.76,338.98 L1827.26,338.11 L1829.76,337.23 L1832.26,336.36 L1834.76,335.49 L1837.25,334.62 L1839.75,333.76 L1842.25,332.89 L1844.75,332.03 L1847.25,331.17 L1848.56,330.72 L1849.75,330.32 L1852.25,329.46 L1854.75,328.61 L1857.24,327.76 L1859.74,326.91 L1862.24,326.06 L1864.74,325.22 L1867.24,324.38 L1869.74,323.54 L1872.24,322.70 L1874.74,321.86 L1877.23,321.03 L1879.73,320.20 L1882.23,319.37 L1883.83,318.84 L1884.73,318.54 L1887.23,317.71 L1889.73,316.89 L1892.23,316.07 L1894.72,315.25 L1897.22,314.44 L1899.72,313.62 L1902.22,312.81 L1904.72,312.00 L1907.22,311.19 L1909.72,310.39 L1912.22,309.58 L1914.71,308.78 L1917.21,307.98 L1919.71,307.18 L1919.94,307.11 L1922.21,306.39 L1924.71,305.59 L1927.21,304.80 L1929.71,304.02 L1932.21,303.23 L1934.70,302.44 L1937.20,301.66 L1939.70,300.88 L1942.20,300.10 L1944.70,299.33 L1947.20,298.55 L1949.70,297.78 L1952.20,297.01 L1954.69,296.24 L1956.92,295.56 L1957.19,295.48 L1959.69,294.71 L1962.19,293.95 L1964.69,293.19 L1967.19,292.43 L1969.69,291.68 L1972.19,290.92 L1974.68,290.17 L1977.18,289.42 L1979.68,288.67 L1982.18,287.92 L1984.68,287.18 L1987.18,286.43 L1989.68,285.69 L1992.17,284.95 L1994.67,284.21 L1994.77,284.18 L1997.17,283.47 L1999.67,282.74 L2002.17,282.00 L2004.67,281.27 L2007.17,280.54 L2009.67,279.81 L2012.16,279.08 L2014.66,278.36 L2017.16,277.63 L2019.66,276.91 L2022.16,276.19 L2024.66,275.47 L2027.16,274.75 L2029.66,274.03 L2032.15,273.31 L2033.53,272.92 L2034.65,272.60 L2037.15,271.88 L2039.65,271.17 L2042.15,270.46 L2044.65,269.75 L2047.15,269.04 L2049.65,268.33 L2052.14,267.62 L2054.64,266.92 L2057.14,266.21 L2059.64,265.51 L2062.14,264.81 L2064.64,264.11 L2067.14,263.41 L2069.63,262.71 L2072.13,262.01 L2073.21,261.71 L2074.63,261.31 L2077.13,260.62 L2079.63,259.92 L2082.13,259.23 L2084.63,258.53 L2087.13,257.84 L2089.62,257.15 L2092.12,256.46 L2094.62,255.77 L2097.12,255.08 L2099.62,254.40 L2102.12,253.71 L2104.62,253.02 L2107.12,252.34 L2109.61,251.65 L2112.11,250.97 L2113.84,250.50 L2114.61,250.29 L2117.11,249.61 L2119.61,248.93 L2122.11,248.25 L2124.61,247.57 L2127.11,246.89 L2129.60,246.21 L2132.10,245.53 L2134.60,244.85 L2137.10,244.18 L2139.60,243.50 L2142.10,242.83 L2144.60,242.15 L2147.10,241.48 L2149.59,240.81 L2152.09,240.13 L2154.59,239.46 L2155.44,239.23 L2157.09,238.79 L2159.59,238.12 L2162.09,237.45 L2164.59,236.78 L2167.08,236.11 L2169.58,235.44 L2172.08,234.77 L2174.58,234.11 L2177.08,233.44 L2179.58,232.77 L2182.08,232.11 L2184.58,231.44 L2187.07,230.77 L2189.57,230.11 L2192.07,229.44 L2194.57,228.78 L2197.07,228.11 L2198.03,227.86 L2199.57,227.45 L2202.07,226.79 L2204.57,226.12 L2207.06,225.46 L2209.56,224.80 L2212.06,224.14 L2214.56,223.47 L2217.06,222.81 L2219.56,222.15 L2222.06,221.49 L2224.56,220.83 L2227.05,220.17 L2229.55,219.51 L2232.05,218.85 L2234.55,218.19 L2237.05,217.53 L2239.55,216.87 L2241.64,216.32 L2242.05,216.21 L2244.54,215.55 L2247.04,214.89 L2249.54,214.23 L2252.04,213.57 L2254.54,212.91 L2257.04,212.25 L2259.54,211.60 L2262.04,210.94 L2264.53,210.28 L2267.03,209.62 L2269.53,208.96 L2272.03,208.30 L2274.53,207.64 L2277.03,206.99 L2279.53,206.33 L2282.03,205.67 L2284.52,205.01 L2286.29,204.55 L2287.02,204.35 L2289.52,203.70 L2292.02,203.04 L2294.52,202.38 L2297.02,201.72 L2299.52,201.06 L2302.02,200.41 L2304.51,199.75 L2307.01,199.09 L2309.51,198.43 L2312.01,197.77 L2314.51,197.11 L2317.01,196.45 L2319.51,195.80 L2322.01,195.14 L2324.50,194.48 L2327.00,193.82 L2329.50,193.16 L2332.00,192.50 L2332.00,192.50" stroke="#d62728" stroke-width="18.0"/>
<path d="M528.4,1712.5 L528.4,119.15" stroke="#ff0000" stroke-width="9.2" stroke-linecap="butt" stroke-dasharray="9.0 14.8"/>
</g>
<g stroke="#000" stroke-width="4.6" fill="none">
<path d="M386.50,1712.95 V1734.75"/>
<path d="M776.60,1712.95 V1734.75"/>
<path d="M1164.30,1712.95 V1734.75"/>
<path d="M1554.00,1712.95 V1734.75"/>
<path d="M1943.50,1712.95 V1734.75"/>
<path d="M2333.00,1712.95 V1734.75"/>
<path d="M291.75,1675.50 H269.95"/>
<path d="M291.75,1431.30 H269.95"/>
<path d="M291.75,1186.50 H269.95"/>
<path d="M291.75,942.20 H269.95"/>
<path d="M291.75,698.40 H269.95"/>
<path d="M291.75,454.10 H269.95"/>
<path d="M291.75,211.50 H269.95"/>
</g>
<rect x="291.75" y="119.15" width="2139.1" height="1593.8" fill="none" stroke="#000" stroke-width="4.6" stroke-linejoin="miter"/>
<g font-size="59.90px">
<text x="385.70" y="1798.8" text-anchor="middle">0</text>
<text x="775.80" y="1798.8" text-anchor="middle">10</text>
<text x="1163.50" y="1798.8" text-anchor="middle">20</text>
<text x="1553.20" y="1798.8" text-anchor="middle">30</text>
<text x="1942.70" y="1798.8" text-anchor="middle">40</text>
<text x="2332.20" y="1798.8" text-anchor="middle">50</text>
<text x="248.0" y="1697.40" text-anchor="end">0.22</text>
<text x="248.0" y="1453.50" text-anchor="end">0.24</text>
<text x="248.0" y="1209.50" text-anchor="end">0.26</text>
<text x="248.0" y="966.00" text-anchor="end">0.28</text>
<text x="248.0" y="721.00" text-anchor="end">0.30</text>
<text x="248.0" y="476.55" text-anchor="end">0.32</text>
<text x="248.0" y="232.30" text-anchor="end">0.34</text>
<text x="1360.6" y="1882.2" text-anchor="middle">MSQ coef value</text>
<text transform="translate(77.0,918.3) rotate(-90)" text-anchor="middle">Fit error (less is better)</text>
</g>
<text x="1360.3" y="83.7" text-anchor="middle" font-size="71.88px">long MSQ coef best fit</text>
<rect x="320.1" y="149.2" width="604.8" height="367.09999999999997" rx="12" ry="12" fill="#ffffff" fill-opacity="0.8" stroke="#cccccc" stroke-opacity="0.8" stroke-width="6.0"/>
<rect x="341.2" y="173.4" width="125.50" height="47.30" fill="#0000ff"/>
<text x="512.5" y="219.7" font-size="59.90px">fit for 5 min</text>
<rect x="341.2" y="261.1" width="125.50" height="47.10" fill="#ffa500"/>
<text x="512.5" y="307.3" font-size="59.90px">fit for 10 min</text>
<rect x="341.2" y="347.3" width="125.50" height="48.50" fill="#008000"/>
<text x="512.5" y="394.7" font-size="59.90px">fit for 15 min</text>
<rect x="341.2" y="435.0" width="125.50" height="47.20" fill="#ff0000"/>
<text x="512.5" y="481.3" font-size="59.90px">fit for 60 min</text>
</svg></body></html>
